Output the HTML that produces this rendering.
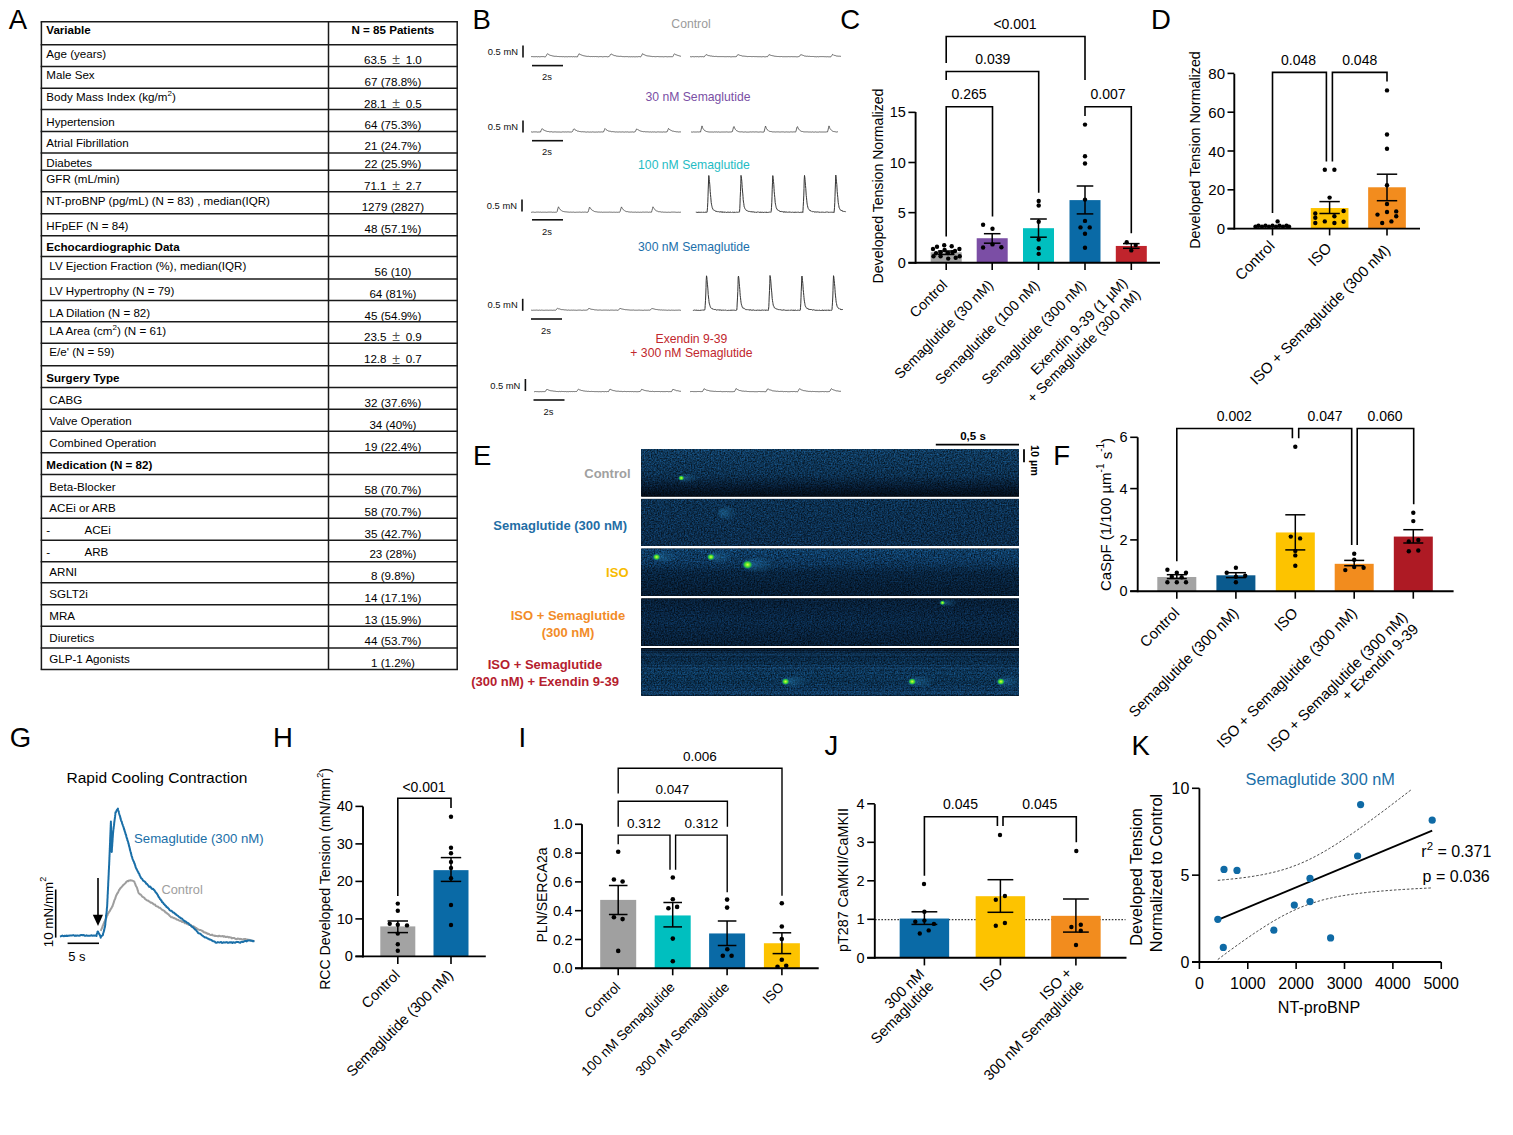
<!DOCTYPE html>
<html><head><meta charset="utf-8"><style>
html,body{margin:0;padding:0;background:#fff;overflow:hidden;width:1513px;height:1135px;}
svg{display:block;}
text{font-family:"Liberation Sans",sans-serif;}
</style></head><body>
<svg width="1513" height="1135" viewBox="0 0 1513 1135" font-family="Liberation Sans">
<rect width="1513" height="1135" fill="#fff"/>
<text x="8.7" y="29.2" font-size="27.5" text-anchor="start" fill="#000" font-weight="normal" dominant-baseline="alphabetic" >A</text>
<text x="472.5" y="29.0" font-size="27.5" text-anchor="start" fill="#000" font-weight="normal" dominant-baseline="alphabetic" >B</text>
<text x="840.3" y="29.0" font-size="27.5" text-anchor="start" fill="#000" font-weight="normal" dominant-baseline="alphabetic" >C</text>
<text x="1150.9" y="29.0" font-size="27.5" text-anchor="start" fill="#000" font-weight="normal" dominant-baseline="alphabetic" >D</text>
<text x="472.9" y="465.0" font-size="27.5" text-anchor="start" fill="#000" font-weight="normal" dominant-baseline="alphabetic" >E</text>
<text x="1053.3" y="465.0" font-size="27.5" text-anchor="start" fill="#000" font-weight="normal" dominant-baseline="alphabetic" >F</text>
<text x="9.7" y="747.2" font-size="27.5" text-anchor="start" fill="#000" font-weight="normal" dominant-baseline="alphabetic" >G</text>
<text x="273.1" y="747.2" font-size="27.5" text-anchor="start" fill="#000" font-weight="normal" dominant-baseline="alphabetic" >H</text>
<text x="518.4" y="747.2" font-size="27.5" text-anchor="start" fill="#000" font-weight="normal" dominant-baseline="alphabetic" >I</text>
<text x="824.5" y="755.0" font-size="27.5" text-anchor="start" fill="#000" font-weight="normal" dominant-baseline="alphabetic" >J</text>
<text x="1131.5" y="755.0" font-size="27.5" text-anchor="start" fill="#000" font-weight="normal" dominant-baseline="alphabetic" >K</text>
<g font-family="Liberation Sans">
<text x="46.3" y="29.9" font-size="11.6" text-anchor="start" fill="#000" font-weight="bold" dominant-baseline="central" >Variable</text>
<text x="392.9" y="29.9" font-size="11.6" text-anchor="middle" fill="#000" font-weight="bold" dominant-baseline="central" >N = 85 Patients</text>
<text x="46.3" y="53.0" font-size="11.6" text-anchor="start" fill="#000" font-weight="normal" dominant-baseline="central" >Age (years)</text>
<text x="392.9" y="59.2" font-size="11.6" text-anchor="middle" fill="#000" font-weight="normal" dominant-baseline="central" >63.5 <tspan dx='2.5' font-size='14' fill='#555'>±</tspan><tspan dx='2.5'> </tspan>1.0</text>
<text x="46.3" y="74.6" font-size="11.6" text-anchor="start" fill="#000" font-weight="normal" dominant-baseline="central" >Male Sex</text>
<text x="392.9" y="81.1" font-size="11.6" text-anchor="middle" fill="#000" font-weight="normal" dominant-baseline="central" >67 (78.8%)</text>
<text x="46.3" y="96.2" font-size="11.6" text-anchor="start" fill="#000" font-weight="normal" dominant-baseline="central" >Body Mass Index (kg/m<tspan font-size='8' dy='-3.5'>2</tspan><tspan dy='3.5'>)</tspan></text>
<text x="392.9" y="103.2" font-size="11.6" text-anchor="middle" fill="#000" font-weight="normal" dominant-baseline="central" >28.1 <tspan dx='2.5' font-size='14' fill='#555'>±</tspan><tspan dx='2.5'> </tspan>0.5</text>
<text x="46.3" y="121.8" font-size="11.6" text-anchor="start" fill="#000" font-weight="normal" dominant-baseline="central" >Hypertension</text>
<text x="392.9" y="124.3" font-size="11.6" text-anchor="middle" fill="#000" font-weight="normal" dominant-baseline="central" >64 (75.3%)</text>
<text x="46.3" y="142.6" font-size="11.6" text-anchor="start" fill="#000" font-weight="normal" dominant-baseline="central" >Atrial Fibrillation</text>
<text x="392.9" y="145.9" font-size="11.6" text-anchor="middle" fill="#000" font-weight="normal" dominant-baseline="central" >21 (24.7%)</text>
<text x="46.3" y="162.6" font-size="11.6" text-anchor="start" fill="#000" font-weight="normal" dominant-baseline="central" >Diabetes</text>
<text x="392.9" y="163.5" font-size="11.6" text-anchor="middle" fill="#000" font-weight="normal" dominant-baseline="central" >22 (25.9%)</text>
<text x="46.3" y="178.2" font-size="11.6" text-anchor="start" fill="#000" font-weight="normal" dominant-baseline="central" >GFR (mL/min)</text>
<text x="392.9" y="185.0" font-size="11.6" text-anchor="middle" fill="#000" font-weight="normal" dominant-baseline="central" >71.1 <tspan dx='2.5' font-size='14' fill='#555'>±</tspan><tspan dx='2.5'> </tspan>2.7</text>
<text x="46.3" y="200.5" font-size="11.6" text-anchor="start" fill="#000" font-weight="normal" dominant-baseline="central" >NT-proBNP (pg/mL) (N = 83) , median(IQR)</text>
<text x="392.9" y="206.7" font-size="11.6" text-anchor="middle" fill="#000" font-weight="normal" dominant-baseline="central" >1279 (2827)</text>
<text x="46.3" y="225.2" font-size="11.6" text-anchor="start" fill="#000" font-weight="normal" dominant-baseline="central" >HFpEF (N = 84)</text>
<text x="392.9" y="228.9" font-size="11.6" text-anchor="middle" fill="#000" font-weight="normal" dominant-baseline="central" >48 (57.1%)</text>
<text x="46.3" y="246.8" font-size="11.6" text-anchor="start" fill="#000" font-weight="bold" dominant-baseline="central" >Echocardiographic Data</text>
<text x="49.3" y="265.3" font-size="11.6" text-anchor="start" fill="#000" font-weight="normal" dominant-baseline="central" >LV Ejection Fraction (%), median(IQR)</text>
<text x="392.9" y="271.4" font-size="11.6" text-anchor="middle" fill="#000" font-weight="normal" dominant-baseline="central" >56 (10)</text>
<text x="49.3" y="290.0" font-size="11.6" text-anchor="start" fill="#000" font-weight="normal" dominant-baseline="central" >LV Hypertrophy (N = 79)</text>
<text x="392.9" y="293.0" font-size="11.6" text-anchor="middle" fill="#000" font-weight="normal" dominant-baseline="central" >64 (81%)</text>
<text x="49.3" y="312.2" font-size="11.6" text-anchor="start" fill="#000" font-weight="normal" dominant-baseline="central" >LA Dilation (N = 82)</text>
<text x="392.9" y="315.2" font-size="11.6" text-anchor="middle" fill="#000" font-weight="normal" dominant-baseline="central" >45 (54.9%)</text>
<text x="49.3" y="330.0" font-size="11.6" text-anchor="start" fill="#000" font-weight="normal" dominant-baseline="central" >LA Area (cm<tspan font-size='8' dy='-3.5'>2</tspan><tspan dy='3.5'>) (N = 61)</tspan></text>
<text x="392.9" y="336.2" font-size="11.6" text-anchor="middle" fill="#000" font-weight="normal" dominant-baseline="central" >23.5 <tspan dx='2.5' font-size='14' fill='#555'>±</tspan><tspan dx='2.5'> </tspan>0.9</text>
<text x="49.3" y="351.7" font-size="11.6" text-anchor="start" fill="#000" font-weight="normal" dominant-baseline="central" >E/e' (N = 59)</text>
<text x="392.9" y="358.5" font-size="11.6" text-anchor="middle" fill="#000" font-weight="normal" dominant-baseline="central" >12.8 <tspan dx='2.5' font-size='14' fill='#555'>±</tspan><tspan dx='2.5'> </tspan>0.7</text>
<text x="46.3" y="377.9" font-size="11.6" text-anchor="start" fill="#000" font-weight="bold" dominant-baseline="central" >Surgery Type</text>
<text x="49.3" y="399.5" font-size="11.6" text-anchor="start" fill="#000" font-weight="normal" dominant-baseline="central" >CABG</text>
<text x="392.9" y="402.6" font-size="11.6" text-anchor="middle" fill="#000" font-weight="normal" dominant-baseline="central" >32 (37.6%)</text>
<text x="49.3" y="420.8" font-size="11.6" text-anchor="start" fill="#000" font-weight="normal" dominant-baseline="central" >Valve Operation</text>
<text x="392.9" y="424.2" font-size="11.6" text-anchor="middle" fill="#000" font-weight="normal" dominant-baseline="central" >34 (40%)</text>
<text x="49.3" y="442.7" font-size="11.6" text-anchor="start" fill="#000" font-weight="normal" dominant-baseline="central" >Combined Operation</text>
<text x="392.9" y="446.4" font-size="11.6" text-anchor="middle" fill="#000" font-weight="normal" dominant-baseline="central" >19 (22.4%)</text>
<text x="46.3" y="464.6" font-size="11.6" text-anchor="start" fill="#000" font-weight="bold" dominant-baseline="central" >Medication (N = 82)</text>
<text x="49.3" y="486.5" font-size="11.6" text-anchor="start" fill="#000" font-weight="normal" dominant-baseline="central" >Beta-Blocker</text>
<text x="392.9" y="489.6" font-size="11.6" text-anchor="middle" fill="#000" font-weight="normal" dominant-baseline="central" >58 (70.7%)</text>
<text x="49.3" y="507.4" font-size="11.6" text-anchor="start" fill="#000" font-weight="normal" dominant-baseline="central" >ACEi or ARB</text>
<text x="392.9" y="511.1" font-size="11.6" text-anchor="middle" fill="#000" font-weight="normal" dominant-baseline="central" >58 (70.7%)</text>
<text x="46.3" y="529.6" font-size="11.6" text-anchor="start" fill="#000" font-weight="normal" dominant-baseline="central" >-</text>
<text x="392.9" y="533.3" font-size="11.6" text-anchor="middle" fill="#000" font-weight="normal" dominant-baseline="central" >35 (42.7%)</text>
<text x="46.3" y="551.2" font-size="11.6" text-anchor="start" fill="#000" font-weight="normal" dominant-baseline="central" >-</text>
<text x="392.9" y="553.7" font-size="11.6" text-anchor="middle" fill="#000" font-weight="normal" dominant-baseline="central" >23 (28%)</text>
<text x="49.3" y="571.9" font-size="11.6" text-anchor="start" fill="#000" font-weight="normal" dominant-baseline="central" >ARNI</text>
<text x="392.9" y="575.9" font-size="11.6" text-anchor="middle" fill="#000" font-weight="normal" dominant-baseline="central" >8 (9.8%)</text>
<text x="49.3" y="593.8" font-size="11.6" text-anchor="start" fill="#000" font-weight="normal" dominant-baseline="central" >SGLT2i</text>
<text x="392.9" y="597.5" font-size="11.6" text-anchor="middle" fill="#000" font-weight="normal" dominant-baseline="central" >14 (17.1%)</text>
<text x="49.3" y="615.4" font-size="11.6" text-anchor="start" fill="#000" font-weight="normal" dominant-baseline="central" >MRA</text>
<text x="392.9" y="619.0" font-size="11.6" text-anchor="middle" fill="#000" font-weight="normal" dominant-baseline="central" >13 (15.9%)</text>
<text x="49.3" y="637.6" font-size="11.6" text-anchor="start" fill="#000" font-weight="normal" dominant-baseline="central" >Diuretics</text>
<text x="392.9" y="640.6" font-size="11.6" text-anchor="middle" fill="#000" font-weight="normal" dominant-baseline="central" >44 (53.7%)</text>
<text x="49.3" y="658.5" font-size="11.6" text-anchor="start" fill="#000" font-weight="normal" dominant-baseline="central" >GLP-1 Agonists</text>
<text x="392.9" y="662.2" font-size="11.6" text-anchor="middle" fill="#000" font-weight="normal" dominant-baseline="central" >1 (1.2%)</text>
<text x="84.5" y="529.6" font-size="11.6" text-anchor="start" fill="#000" font-weight="normal" dominant-baseline="central" >ACEi</text>
<text x="84.5" y="551.2" font-size="11.6" text-anchor="start" fill="#000" font-weight="normal" dominant-baseline="central" >ARB</text>
<line x1="40.65" y1="21.70" x2="457.95" y2="21.70" stroke="#1a1a1a" stroke-width="1.5" />
<line x1="40.65" y1="44.70" x2="457.95" y2="44.70" stroke="#1a1a1a" stroke-width="1.5" />
<line x1="40.65" y1="66.60" x2="457.95" y2="66.60" stroke="#1a1a1a" stroke-width="1.5" />
<line x1="40.65" y1="88.20" x2="457.95" y2="88.20" stroke="#1a1a1a" stroke-width="1.5" />
<line x1="40.65" y1="109.60" x2="457.95" y2="109.60" stroke="#1a1a1a" stroke-width="1.5" />
<line x1="40.65" y1="131.60" x2="457.95" y2="131.60" stroke="#1a1a1a" stroke-width="1.5" />
<line x1="40.65" y1="153.00" x2="457.95" y2="153.00" stroke="#1a1a1a" stroke-width="1.5" />
<line x1="40.65" y1="170.20" x2="457.95" y2="170.20" stroke="#1a1a1a" stroke-width="1.5" />
<line x1="40.65" y1="191.70" x2="457.95" y2="191.70" stroke="#1a1a1a" stroke-width="1.5" />
<line x1="40.65" y1="213.70" x2="457.95" y2="213.70" stroke="#1a1a1a" stroke-width="1.5" />
<line x1="40.65" y1="235.80" x2="457.95" y2="235.80" stroke="#1a1a1a" stroke-width="1.5" />
<line x1="40.65" y1="256.60" x2="457.95" y2="256.60" stroke="#1a1a1a" stroke-width="1.5" />
<line x1="40.65" y1="279.00" x2="457.95" y2="279.00" stroke="#1a1a1a" stroke-width="1.5" />
<line x1="40.65" y1="300.40" x2="457.95" y2="300.40" stroke="#1a1a1a" stroke-width="1.5" />
<line x1="40.65" y1="321.80" x2="457.95" y2="321.80" stroke="#1a1a1a" stroke-width="1.5" />
<line x1="40.65" y1="343.30" x2="457.95" y2="343.30" stroke="#1a1a1a" stroke-width="1.5" />
<line x1="40.65" y1="365.80" x2="457.95" y2="365.80" stroke="#1a1a1a" stroke-width="1.5" />
<line x1="40.65" y1="387.60" x2="457.95" y2="387.60" stroke="#1a1a1a" stroke-width="1.5" />
<line x1="40.65" y1="409.30" x2="457.95" y2="409.30" stroke="#1a1a1a" stroke-width="1.5" />
<line x1="40.65" y1="431.30" x2="457.95" y2="431.30" stroke="#1a1a1a" stroke-width="1.5" />
<line x1="40.65" y1="452.80" x2="457.95" y2="452.80" stroke="#1a1a1a" stroke-width="1.5" />
<line x1="40.65" y1="474.50" x2="457.95" y2="474.50" stroke="#1a1a1a" stroke-width="1.5" />
<line x1="40.65" y1="496.50" x2="457.95" y2="496.50" stroke="#1a1a1a" stroke-width="1.5" />
<line x1="40.65" y1="518.20" x2="457.95" y2="518.20" stroke="#1a1a1a" stroke-width="1.5" />
<line x1="40.65" y1="540.20" x2="457.95" y2="540.20" stroke="#1a1a1a" stroke-width="1.5" />
<line x1="40.65" y1="561.70" x2="457.95" y2="561.70" stroke="#1a1a1a" stroke-width="1.5" />
<line x1="40.65" y1="582.80" x2="457.95" y2="582.80" stroke="#1a1a1a" stroke-width="1.5" />
<line x1="40.65" y1="604.80" x2="457.95" y2="604.80" stroke="#1a1a1a" stroke-width="1.5" />
<line x1="40.65" y1="626.30" x2="457.95" y2="626.30" stroke="#1a1a1a" stroke-width="1.5" />
<line x1="40.65" y1="648.00" x2="457.95" y2="648.00" stroke="#1a1a1a" stroke-width="1.5" />
<line x1="40.65" y1="669.50" x2="457.95" y2="669.50" stroke="#1a1a1a" stroke-width="1.5" />
<line x1="41.40" y1="21.70" x2="41.40" y2="669.50" stroke="#1a1a1a" stroke-width="1.5" />
<line x1="457.20" y1="21.70" x2="457.20" y2="669.50" stroke="#1a1a1a" stroke-width="1.5" />
<line x1="328.50" y1="21.70" x2="328.50" y2="669.50" stroke="#1a1a1a" stroke-width="1.5" />
</g>
<g font-family="Liberation Sans">
<text x="691.0" y="24.0" font-size="12.2" text-anchor="middle" fill="#9a9a9a" font-weight="normal" dominant-baseline="central" >Control</text>
<text x="698.0" y="96.5" font-size="12.2" text-anchor="middle" fill="#7a4fa5" font-weight="normal" dominant-baseline="central" >30 nM Semaglutide</text>
<text x="694.0" y="164.5" font-size="12.2" text-anchor="middle" fill="#1fbcc4" font-weight="normal" dominant-baseline="central" >100 nM Semaglutide</text>
<text x="694.0" y="247.0" font-size="12.2" text-anchor="middle" fill="#1b6fab" font-weight="normal" dominant-baseline="central" >300 nM Semaglutide</text>
<text x="691.5" y="339.0" font-size="12.2" text-anchor="middle" fill="#c1272d" font-weight="normal" dominant-baseline="central" >Exendin 9-39</text>
<text x="691.5" y="353.0" font-size="12.2" text-anchor="middle" fill="#c1272d" font-weight="normal" dominant-baseline="central" >+ 300 nM Semaglutide</text>
<text x="518.0" y="51.6" font-size="9.4" text-anchor="end" fill="#111" font-weight="normal" dominant-baseline="central" >0.5 mN</text>
<line x1="523.00" y1="45.60" x2="523.00" y2="57.60" stroke="#111" stroke-width="1.6" />
<line x1="532.00" y1="65.60" x2="563.00" y2="65.60" stroke="#111" stroke-width="1.6" />
<text x="547.0" y="76.0" font-size="9.4" text-anchor="middle" fill="#111" font-weight="normal" dominant-baseline="central" >2s</text>
<polyline points="531.0,56.7 531.5,56.6 532.0,56.7 532.5,56.6 533.0,56.7 533.5,56.7 534.0,56.6 534.5,56.7 535.0,56.6 535.5,56.7 536.0,56.6 536.5,56.6 537.0,56.7 537.5,56.8 538.0,56.6 538.5,56.6 539.0,56.7 539.5,56.8 540.0,56.7 540.5,56.7 541.0,56.8 541.5,56.6 542.0,56.8 542.5,56.6 543.0,56.6 543.5,56.6 544.0,56.7 544.5,56.8 545.0,56.6 545.5,56.7 546.0,56.3 546.5,55.3 547.0,54.3 547.5,53.7 548.0,54.1 548.5,54.4 549.0,54.8 549.5,55.0 550.0,55.1 550.5,55.4 551.0,55.5 551.5,55.6 552.0,55.8 552.5,55.9 553.0,55.9 553.5,56.1 554.0,56.1 554.5,56.3 555.0,56.3 555.5,56.3 556.0,56.5 556.5,56.3 557.0,56.4 557.5,56.5 558.0,56.4 558.5,56.5 559.0,56.4 559.5,56.6 560.0,56.6 560.5,56.6 561.0,56.7 561.5,56.6 562.0,56.7 562.5,56.7 563.0,56.7 563.5,56.6 564.0,56.7 564.5,56.8 565.0,56.7 565.5,56.7 566.0,56.6 566.5,56.7 567.0,56.7 567.5,56.8 568.0,56.8 568.5,56.6 569.0,56.7 569.5,56.7 570.0,56.6 570.5,56.7 571.0,56.6 571.5,56.6 572.0,56.6 572.5,56.8 573.0,56.6 573.5,56.6 574.0,56.7 574.5,56.8 575.0,56.6 575.5,56.7 576.0,56.7 576.5,56.8 577.0,56.8 577.5,56.8 578.0,55.6 578.5,54.7 579.0,53.7 579.5,54.1 580.0,54.5 580.5,54.6 581.0,54.8 581.5,55.0 582.0,55.2 582.5,55.4 583.0,55.6 583.5,55.7 584.0,55.7 584.5,55.9 585.0,56.0 585.5,56.1 586.0,56.3 586.5,56.3 587.0,56.3 587.5,56.4 588.0,56.4 588.5,56.3 589.0,56.5 589.5,56.5 590.0,56.6 590.5,56.6 591.0,56.5 591.5,56.5 592.0,56.5 592.5,56.6 593.0,56.5 593.5,56.5 594.0,56.6 594.5,56.6 595.0,56.6 595.5,56.5 596.0,56.5 596.5,56.6 597.0,56.6 597.5,56.6 598.0,56.6 598.5,56.8 599.0,56.7 599.5,56.6 600.0,56.6 600.5,56.6 601.0,56.7 601.5,56.6 602.0,56.8 602.5,56.8 603.0,56.7 603.5,56.7 604.0,56.6 604.5,56.6 605.0,56.7 605.5,56.6 606.0,56.8 606.5,56.6 607.0,56.6 607.5,56.8 608.0,56.7 608.5,56.6 609.0,56.7 609.5,56.2 610.0,55.3 610.5,54.4 611.0,53.9 611.5,54.2 612.0,54.4 612.5,54.7 613.0,54.9 613.5,55.2 614.0,55.4 614.5,55.6 615.0,55.6 615.5,55.7 616.0,56.0 616.5,56.1 617.0,56.1 617.5,56.2 618.0,56.3 618.5,56.3 619.0,56.2 619.5,56.4 620.0,56.4 620.5,56.3 621.0,56.4 621.5,56.4 622.0,56.5 622.5,56.6 623.0,56.7 623.5,56.6 624.0,56.7 624.5,56.7 625.0,56.7 625.5,56.6 626.0,56.6 626.5,56.6 627.0,56.6 627.5,56.6 628.0,56.7 628.5,56.8 629.0,56.7 629.5,56.7 630.0,56.7 630.5,56.8 631.0,56.6 631.5,56.7 632.0,56.8 632.5,56.8 633.0,56.7 633.5,56.7 634.0,56.6 634.5,56.8 635.0,56.7 635.5,56.8 636.0,56.8 636.5,56.7 637.0,56.7 637.5,56.8 638.0,56.8 638.5,56.6 639.0,56.6 639.5,56.6 640.0,56.8 640.5,56.8 641.0,56.6 641.5,55.8 642.0,54.8 642.5,53.7 643.0,54.0 643.5,54.4 644.0,54.5 644.5,54.8 645.0,55.2 645.5,55.3 646.0,55.5 646.5,55.7 647.0,55.7 647.5,55.9 648.0,56.0 648.5,56.0 649.0,56.0 649.5,56.1 650.0,56.2 650.5,56.3 651.0,56.3 651.5,56.4 652.0,56.3 652.5,56.6 653.0,56.4 653.5,56.5 654.0,56.6 654.5,56.6 655.0,56.5 655.5,56.7 656.0,56.6 656.5,56.6 657.0,56.6 657.5,56.5 658.0,56.6 658.5,56.6 659.0,56.5 659.5,56.7 660.0,56.6 660.5,56.7 661.0,56.7 661.5,56.7 662.0,56.6 662.5,56.7 663.0,56.7 663.5,56.8 664.0,56.6 664.5,56.7 665.0,56.6 665.5,56.6 666.0,56.8 666.5,56.7 667.0,56.7 667.5,56.8 668.0,56.8 668.5,56.7 669.0,56.7 669.5,56.7 670.0,56.7 670.5,56.7 671.0,56.7 671.5,56.7 672.0,56.7 672.5,56.8 673.0,56.3 673.5,55.4 674.0,54.4 674.5,53.8 675.0,54.2 675.5,54.6 676.0,54.8 676.5,54.9 677.0,55.1 677.5,55.3 678.0,55.4 678.5,55.6 679.0,55.7 679.5,55.9 680.0,56.0 680.5,56.2 681.0,56.1" fill="none" stroke="#555" stroke-width="0.9" stroke-linejoin="round" />
<polyline points="690.0,56.8 690.5,56.7 691.0,56.6 691.5,56.8 692.0,56.8 692.5,56.6 693.0,56.8 693.5,56.7 694.0,56.7 694.5,56.8 695.0,56.8 695.5,56.6 696.0,56.7 696.5,56.7 697.0,56.7 697.5,56.6 698.0,56.7 698.5,56.8 699.0,56.6 699.5,56.7 700.0,56.7 700.5,56.6 701.0,56.7 701.5,56.7 702.0,56.7 702.5,56.6 703.0,56.8 703.5,56.8 704.0,56.8 704.5,56.6 705.0,55.9 705.5,55.1 706.0,54.6 706.5,54.7 707.0,54.9 707.5,55.2 708.0,55.5 708.5,55.6 709.0,55.6 709.5,55.7 710.0,56.0 710.5,56.0 711.0,56.1 711.5,56.0 712.0,56.1 712.5,56.3 713.0,56.3 713.5,56.3 714.0,56.5 714.5,56.5 715.0,56.5 715.5,56.4 716.0,56.6 716.5,56.4 717.0,56.6 717.5,56.6 718.0,56.6 718.5,56.6 719.0,56.7 719.5,56.6 720.0,56.5 720.5,56.6 721.0,56.6 721.5,56.6 722.0,56.6 722.5,56.6 723.0,56.6 723.5,56.6 724.0,56.6 724.5,56.7 725.0,56.6 725.5,56.7 726.0,56.6 726.5,56.7 727.0,56.6 727.5,56.6 728.0,56.6 728.5,56.7 729.0,56.7 729.5,56.6 730.0,56.7 730.5,56.8 731.0,56.6 731.5,56.8 732.0,56.7 732.5,56.7 733.0,56.8 733.5,56.7 734.0,56.7 734.5,56.7 735.0,56.8 735.5,56.7 736.0,56.8 736.5,56.5 737.0,55.7 737.5,54.9 738.0,54.6 738.5,54.7 739.0,55.0 739.5,55.2 740.0,55.5 740.5,55.5 741.0,55.6 741.5,55.7 742.0,56.0 742.5,56.1 743.0,56.1 743.5,56.1 744.0,56.2 744.5,56.2 745.0,56.3 745.5,56.3 746.0,56.4 746.5,56.4 747.0,56.6 747.5,56.6 748.0,56.5 748.5,56.5 749.0,56.7 749.5,56.5 750.0,56.6 750.5,56.5 751.0,56.6 751.5,56.6 752.0,56.6 752.5,56.6 753.0,56.7 753.5,56.5 754.0,56.6 754.5,56.6 755.0,56.6 755.5,56.6 756.0,56.6 756.5,56.6 757.0,56.6 757.5,56.7 758.0,56.7 758.5,56.7 759.0,56.7 759.5,56.7 760.0,56.8 760.5,56.7 761.0,56.7 761.5,56.8 762.0,56.6 762.5,56.7 763.0,56.7 763.5,56.6 764.0,56.8 764.5,56.8 765.0,56.7 765.5,56.8 766.0,56.8 766.5,56.6 767.0,56.7 767.5,56.7 768.0,56.0 768.5,55.3 769.0,54.6 769.5,54.8 770.0,55.1 770.5,55.2 771.0,55.4 771.5,55.5 772.0,55.5 772.5,55.7 773.0,55.9 773.5,55.9 774.0,56.2 774.5,56.2 775.0,56.2 775.5,56.3 776.0,56.4 776.5,56.4 777.0,56.3 777.5,56.5 778.0,56.5 778.5,56.5 779.0,56.5 779.5,56.6 780.0,56.5 780.5,56.6 781.0,56.5 781.5,56.5 782.0,56.6 782.5,56.7 783.0,56.6 783.5,56.7 784.0,56.8 784.5,56.7 785.0,56.6 785.5,56.7 786.0,56.7 786.5,56.7 787.0,56.7 787.5,56.7 788.0,56.6 788.5,56.6 789.0,56.6 789.5,56.7 790.0,56.6 790.5,56.7 791.0,56.6 791.5,56.6 792.0,56.6 792.5,56.7 793.0,56.7 793.5,56.7 794.0,56.6 794.5,56.7 795.0,56.7 795.5,56.7 796.0,56.6 796.5,56.8 797.0,56.6 797.5,56.8 798.0,56.8 798.5,56.6 799.0,56.7 799.5,56.3 800.0,55.6 800.5,54.8 801.0,54.6 801.5,54.8 802.0,55.2 802.5,55.2 803.0,55.5 803.5,55.5 804.0,55.7 804.5,56.0 805.0,55.9 805.5,56.1 806.0,56.1 806.5,56.3 807.0,56.3 807.5,56.2 808.0,56.4 808.5,56.4 809.0,56.3 809.5,56.3 810.0,56.5 810.5,56.5 811.0,56.5 811.5,56.5 812.0,56.5 812.5,56.5 813.0,56.7 813.5,56.5 814.0,56.7 814.5,56.7 815.0,56.5 815.5,56.7 816.0,56.7 816.5,56.8 817.0,56.6 817.5,56.6 818.0,56.6 818.5,56.8 819.0,56.7 819.5,56.6 820.0,56.7 820.5,56.6 821.0,56.6 821.5,56.6 822.0,56.8 822.5,56.6 823.0,56.8 823.5,56.6 824.0,56.6 824.5,56.7 825.0,56.6 825.5,56.7 826.0,56.8 826.5,56.8 827.0,56.8 827.5,56.7 828.0,56.8 828.5,56.8 829.0,56.7 829.5,56.8 830.0,56.6 830.5,56.8 831.0,56.7 831.5,56.0 832.0,55.3 832.5,54.4 833.0,54.6 833.5,55.1 834.0,55.1 834.5,55.4 835.0,55.5 835.5,55.6 836.0,55.8 836.5,56.0 837.0,55.9 837.5,56.1 838.0,56.1 838.5,56.2 839.0,56.2 839.5,56.2 840.0,56.3 840.5,56.3 841.0,56.5" fill="none" stroke="#555" stroke-width="0.9" stroke-linejoin="round" />
<text x="518.0" y="126.5" font-size="9.4" text-anchor="end" fill="#111" font-weight="normal" dominant-baseline="central" >0.5 mN</text>
<line x1="523.00" y1="120.50" x2="523.00" y2="132.50" stroke="#111" stroke-width="1.6" />
<line x1="532.00" y1="140.70" x2="563.00" y2="140.70" stroke="#111" stroke-width="1.6" />
<text x="547.0" y="151.6" font-size="9.4" text-anchor="middle" fill="#111" font-weight="normal" dominant-baseline="central" >2s</text>
<polyline points="531.0,132.0 531.5,131.9 532.0,132.1 532.5,132.1 533.0,132.0 533.5,131.9 534.0,131.9 534.5,131.9 535.0,132.0 535.5,131.9 536.0,131.9 536.5,131.9 537.0,132.0 537.5,132.1 538.0,132.1 538.5,132.0 539.0,132.0 539.5,132.0 540.0,132.0 540.5,132.0 541.0,130.7 541.5,129.6 542.0,128.6 542.5,128.9 543.0,129.5 543.5,129.9 544.0,130.3 544.5,130.4 545.0,130.7 545.5,130.8 546.0,131.1 546.5,131.2 547.0,131.4 547.5,131.5 548.0,131.6 548.5,131.5 549.0,131.5 549.5,131.8 550.0,131.9 550.5,131.8 551.0,131.8 551.5,131.7 552.0,131.8 552.5,132.0 553.0,132.0 553.5,132.0 554.0,132.0 554.5,131.9 555.0,131.9 555.5,131.9 556.0,132.0 556.5,132.0 557.0,132.1 557.5,132.0 558.0,132.0 558.5,132.0 559.0,132.0 559.5,132.0 560.0,131.9 560.5,132.1 561.0,131.9 561.5,132.1 562.0,132.0 562.5,131.9 563.0,131.9 563.5,131.9 564.0,132.0 564.5,132.0 565.0,131.9 565.5,131.9 566.0,132.0 566.5,132.0 567.0,132.0 567.5,131.9 568.0,132.0 568.5,131.9 569.0,132.0 569.5,132.0 570.0,132.1 570.5,132.0 571.0,132.1 571.5,132.0 572.0,131.9 572.5,131.5 573.0,130.5 573.5,129.2 574.0,128.7 574.5,129.1 575.0,129.7 575.5,130.1 576.0,130.3 576.5,130.5 577.0,130.8 577.5,131.1 578.0,131.1 578.5,131.2 579.0,131.3 579.5,131.5 580.0,131.6 580.5,131.6 581.0,131.8 581.5,131.8 582.0,131.8 582.5,131.7 583.0,131.9 583.5,131.8 584.0,132.0 584.5,131.8 585.0,131.8 585.5,132.0 586.0,131.9 586.5,132.1 587.0,132.0 587.5,131.9 588.0,131.9 588.5,132.0 589.0,132.0 589.5,132.1 590.0,131.9 590.5,132.0 591.0,131.9 591.5,132.1 592.0,131.9 592.5,131.9 593.0,131.9 593.5,132.0 594.0,132.1 594.5,132.1 595.0,132.1 595.5,132.1 596.0,132.1 596.5,132.0 597.0,131.9 597.5,132.1 598.0,132.1 598.5,131.9 599.0,132.0 599.5,132.0 600.0,132.0 600.5,132.0 601.0,131.9 601.5,131.9 602.0,131.9 602.5,132.0 603.0,132.1 603.5,131.9 604.0,130.9 604.5,129.6 605.0,128.5 605.5,129.1 606.0,129.6 606.5,129.9 607.0,130.1 607.5,130.5 608.0,130.7 608.5,131.0 609.0,131.0 609.5,131.2 610.0,131.4 610.5,131.3 611.0,131.5 611.5,131.7 612.0,131.7 612.5,131.6 613.0,131.6 613.5,131.7 614.0,131.9 614.5,131.8 615.0,131.9 615.5,132.0 616.0,131.9 616.5,131.9 617.0,132.0 617.5,132.0 618.0,131.9 618.5,132.0 619.0,131.9 619.5,131.9 620.0,131.9 620.5,132.0 621.0,132.1 621.5,132.0 622.0,132.1 622.5,131.9 623.0,131.9 623.5,132.0 624.0,132.1 624.5,132.1 625.0,132.0 625.5,131.9 626.0,132.0 626.5,132.0 627.0,132.1 627.5,131.9 628.0,132.1 628.5,132.1 629.0,132.1 629.5,132.1 630.0,132.0 630.5,132.0 631.0,132.0 631.5,132.0 632.0,132.1 632.5,131.9 633.0,131.9 633.5,132.1 634.0,131.9 634.5,131.9 635.0,131.9 635.5,131.3 636.0,130.1 636.5,129.1 637.0,128.9 637.5,129.4 638.0,129.7 638.5,130.0 639.0,130.3 639.5,130.6 640.0,130.9 640.5,131.0 641.0,131.1 641.5,131.3 642.0,131.4 642.5,131.5 643.0,131.6 643.5,131.7 644.0,131.7 644.5,131.6 645.0,131.9 645.5,131.8 646.0,131.9 646.5,131.8 647.0,131.9 647.5,131.8 648.0,131.9 648.5,131.9 649.0,131.9 649.5,132.0 650.0,132.0 650.5,131.9 651.0,131.9 651.5,132.1 652.0,132.0 652.5,131.9 653.0,132.1 653.5,132.0 654.0,132.1 654.5,131.9 655.0,132.0 655.5,132.1 656.0,132.1 656.5,132.1 657.0,131.9 657.5,131.9 658.0,131.9 658.5,131.9 659.0,132.1 659.5,132.0 660.0,132.1 660.5,132.0 661.0,132.1 661.5,132.0 662.0,131.9 662.5,132.1 663.0,132.1 663.5,131.9 664.0,132.0 664.5,132.0 665.0,131.9 665.5,132.0 666.0,131.9 666.5,131.9 667.0,131.9 667.5,130.9 668.0,129.7 668.5,128.4 669.0,128.9 669.5,129.5 670.0,129.9 670.5,130.1 671.0,130.4 671.5,130.6 672.0,131.0 672.5,131.1 673.0,131.1 673.5,131.2 674.0,131.4 674.5,131.5 675.0,131.6 675.5,131.6 676.0,131.6 676.5,131.8 677.0,131.8 677.5,131.8 678.0,131.8 678.5,132.0 679.0,131.8 679.5,131.9 680.0,131.9 680.5,131.9 681.0,132.0" fill="none" stroke="#555" stroke-width="0.9" stroke-linejoin="round" />
<polyline points="691.0,132.1 691.5,132.0 692.0,131.9 692.5,132.1 693.0,131.9 693.5,131.9 694.0,132.1 694.5,132.0 695.0,132.1 695.5,132.0 696.0,132.1 696.5,132.0 697.0,131.9 697.5,131.9 698.0,132.0 698.5,132.0 699.0,132.1 699.5,131.9 700.0,132.0 700.5,132.0 701.0,130.0 701.5,127.9 702.0,125.9 702.5,127.4 703.0,128.6 703.5,129.2 704.0,129.9 704.5,130.5 705.0,130.9 705.5,131.0 706.0,131.2 706.5,131.5 707.0,131.7 707.5,131.7 708.0,131.6 708.5,131.9 709.0,131.8 709.5,132.0 710.0,131.9 710.5,132.0 711.0,131.9 711.5,132.0 712.0,131.9 712.5,132.0 713.0,132.1 713.5,132.1 714.0,131.9 714.5,131.9 715.0,132.0 715.5,132.0 716.0,132.0 716.5,131.9 717.0,131.9 717.5,132.1 718.0,132.1 718.5,131.9 719.0,132.0 719.5,132.1 720.0,131.9 720.5,132.1 721.0,131.9 721.5,132.0 722.0,132.0 722.5,132.0 723.0,132.0 723.5,132.0 724.0,132.0 724.5,132.0 725.0,132.0 725.5,132.0 726.0,132.0 726.5,131.9 727.0,132.0 727.5,132.0 728.0,131.9 728.5,132.1 729.0,132.1 729.5,132.0 730.0,131.9 730.5,132.0 731.0,131.9 731.5,131.9 732.0,132.0 732.5,131.1 733.0,129.2 733.5,127.2 734.0,126.5 734.5,127.9 735.0,128.7 735.5,129.6 736.0,130.2 736.5,130.6 737.0,130.8 737.5,131.1 738.0,131.3 738.5,131.6 739.0,131.5 739.5,131.8 740.0,131.9 740.5,131.9 741.0,131.9 741.5,131.8 742.0,132.0 742.5,131.9 743.0,132.1 743.5,132.1 744.0,131.9 744.5,132.0 745.0,132.1 745.5,131.9 746.0,132.0 746.5,132.1 747.0,131.9 747.5,132.1 748.0,131.9 748.5,132.1 749.0,131.9 749.5,132.0 750.0,132.1 750.5,131.9 751.0,131.9 751.5,132.0 752.0,132.0 752.5,131.9 753.0,131.9 753.5,131.9 754.0,132.1 754.5,132.0 755.0,132.1 755.5,131.9 756.0,132.1 756.5,131.9 757.0,132.0 757.5,132.0 758.0,132.0 758.5,132.1 759.0,132.0 759.5,132.0 760.0,132.1 760.5,131.9 761.0,132.1 761.5,132.0 762.0,132.0 762.5,132.1 763.0,131.9 763.5,132.1 764.0,132.0 764.5,130.0 765.0,128.1 765.5,126.0 766.0,127.3 766.5,128.5 767.0,129.2 767.5,130.0 768.0,130.3 768.5,130.8 769.0,131.2 769.5,131.3 770.0,131.5 770.5,131.5 771.0,131.5 771.5,131.6 772.0,131.7 772.5,131.9 773.0,131.9 773.5,131.9 774.0,132.0 774.5,131.9 775.0,131.9 775.5,132.0 776.0,131.9 776.5,131.9 777.0,132.0 777.5,131.9 778.0,132.0 778.5,131.9 779.0,132.0 779.5,132.0 780.0,131.9 780.5,132.0 781.0,132.0 781.5,131.9 782.0,132.1 782.5,131.9 783.0,131.9 783.5,131.9 784.0,132.0 784.5,132.1 785.0,132.1 785.5,132.0 786.0,131.9 786.5,131.9 787.0,132.0 787.5,132.0 788.0,132.0 788.5,132.0 789.0,132.0 789.5,132.1 790.0,132.1 790.5,131.9 791.0,132.1 791.5,131.9 792.0,132.0 792.5,132.0 793.0,131.9 793.5,131.9 794.0,132.1 794.5,131.9 795.0,132.0 795.5,132.1 796.0,131.1 796.5,129.1 797.0,127.2 797.5,126.6 798.0,127.9 798.5,128.9 799.0,129.5 799.5,130.1 800.0,130.5 800.5,130.8 801.0,131.2 801.5,131.4 802.0,131.5 802.5,131.5 803.0,131.8 803.5,131.8 804.0,131.8 804.5,131.9 805.0,131.9 805.5,131.9 806.0,131.8 806.5,131.9 807.0,131.9 807.5,131.9 808.0,132.0 808.5,132.0 809.0,132.1 809.5,132.0 810.0,131.9 810.5,132.0 811.0,132.0 811.5,132.1 812.0,132.0 812.5,131.9 813.0,132.0 813.5,132.1 814.0,131.9 814.5,132.1 815.0,131.9 815.5,131.9 816.0,131.9 816.5,132.1 817.0,132.1 817.5,132.1 818.0,132.0 818.5,132.1 819.0,132.0 819.5,131.9 820.0,132.1 820.5,132.0 821.0,132.0 821.5,132.0 822.0,132.1 822.5,132.0 823.0,132.1 823.5,132.0 824.0,132.1 824.5,132.0 825.0,132.1 825.5,132.0 826.0,132.0 826.5,131.9 827.0,132.0 827.5,131.9 828.0,130.1 828.5,127.9 829.0,125.9 829.5,127.3 830.0,128.6 830.5,129.2 831.0,129.8 831.5,130.3 832.0,130.7 832.5,131.1 833.0,131.3 833.5,131.5 834.0,131.6 834.5,131.6 835.0,131.8 835.5,131.8 836.0,131.9 836.5,132.0 837.0,132.0 837.5,131.8 838.0,132.0" fill="none" stroke="#555" stroke-width="0.9" stroke-linejoin="round" />
<text x="517.0" y="205.5" font-size="9.4" text-anchor="end" fill="#111" font-weight="normal" dominant-baseline="central" >0.5 mN</text>
<line x1="522.00" y1="199.50" x2="522.00" y2="211.50" stroke="#111" stroke-width="1.6" />
<line x1="532.00" y1="219.80" x2="563.00" y2="219.80" stroke="#111" stroke-width="1.6" />
<text x="547.0" y="231.7" font-size="9.4" text-anchor="middle" fill="#111" font-weight="normal" dominant-baseline="central" >2s</text>
<polyline points="531.0,212.3 531.5,212.3 532.0,212.1 532.5,212.1 533.0,212.1 533.5,212.1 534.0,212.3 534.5,212.3 535.0,212.2 535.5,212.3 536.0,212.2 536.5,212.1 537.0,212.1 537.5,212.1 538.0,212.3 538.5,212.1 539.0,212.2 539.5,212.2 540.0,212.1 540.5,212.1 541.0,212.1 541.5,212.3 542.0,212.2 542.5,212.2 543.0,212.3 543.5,212.2 544.0,212.3 544.5,212.2 545.0,212.1 545.5,212.2 546.0,212.2 546.5,212.3 547.0,212.2 547.5,212.2 548.0,212.2 548.5,212.1 549.0,212.3 549.5,212.1 550.0,212.3 550.5,212.1 551.0,212.1 551.5,212.1 552.0,212.3 552.5,212.3 553.0,212.1 553.5,212.2 554.0,212.2 554.5,212.3 555.0,212.1 555.5,212.2 556.0,212.2 556.5,212.3 557.0,211.8 557.5,210.1 558.0,208.1 558.5,206.8 559.0,207.9 559.5,208.7 560.0,209.2 560.5,209.9 561.0,210.2 561.5,210.7 562.0,210.9 562.5,211.2 563.0,211.4 563.5,211.5 564.0,211.6 564.5,211.7 565.0,211.9 565.5,211.8 566.0,212.0 566.5,211.9 567.0,212.0 567.5,212.0 568.0,212.2 568.5,212.1 569.0,212.1 569.5,212.2 570.0,212.1 570.5,212.1 571.0,212.2 571.5,212.2 572.0,212.2 572.5,212.2 573.0,212.1 573.5,212.1 574.0,212.1 574.5,212.3 575.0,212.2 575.5,212.3 576.0,212.1 576.5,212.2 577.0,212.3 577.5,212.2 578.0,212.1 578.5,212.2 579.0,212.3 579.5,212.1 580.0,212.1 580.5,212.2 581.0,212.2 581.5,212.3 582.0,212.1 582.5,212.1 583.0,212.1 583.5,212.2 584.0,212.2 584.5,212.1 585.0,212.2 585.5,212.1 586.0,212.3 586.5,212.3 587.0,212.1 587.5,212.3 588.0,212.1 588.5,210.7 589.0,209.0 589.5,207.1 590.0,207.6 590.5,208.3 591.0,209.0 591.5,209.7 592.0,210.0 592.5,210.4 593.0,210.8 593.5,210.9 594.0,211.2 594.5,211.5 595.0,211.6 595.5,211.7 596.0,211.8 596.5,211.8 597.0,211.8 597.5,212.0 598.0,212.0 598.5,212.1 599.0,212.2 599.5,212.1 600.0,212.1 600.5,212.2 601.0,212.1 601.5,212.1 602.0,212.2 602.5,212.3 603.0,212.2 603.5,212.2 604.0,212.3 604.5,212.2 605.0,212.2 605.5,212.2 606.0,212.1 606.5,212.2 607.0,212.1 607.5,212.2 608.0,212.3 608.5,212.2 609.0,212.2 609.5,212.1 610.0,212.2 610.5,212.2 611.0,212.2 611.5,212.2 612.0,212.2 612.5,212.3 613.0,212.1 613.5,212.2 614.0,212.3 614.5,212.2 615.0,212.2 615.5,212.3 616.0,212.1 616.5,212.2 617.0,212.1 617.5,212.3 618.0,212.3 618.5,212.2 619.0,212.1 619.5,212.2 620.0,211.8 620.5,210.1 621.0,208.2 621.5,206.9 622.0,208.0 622.5,208.7 623.0,209.3 623.5,209.9 624.0,210.2 624.5,210.7 625.0,210.9 625.5,211.2 626.0,211.2 626.5,211.6 627.0,211.6 627.5,211.6 628.0,211.8 628.5,211.9 629.0,211.8 629.5,212.0 630.0,212.0 630.5,212.1 631.0,212.0 631.5,212.0 632.0,212.1 632.5,212.2 633.0,212.3 633.5,212.2 634.0,212.1 634.5,212.2 635.0,212.2 635.5,212.1 636.0,212.1 636.5,212.3 637.0,212.3 637.5,212.2 638.0,212.2 638.5,212.2 639.0,212.1 639.5,212.3 640.0,212.2 640.5,212.2 641.0,212.3 641.5,212.3 642.0,212.2 642.5,212.1 643.0,212.2 643.5,212.1 644.0,212.3 644.5,212.2 645.0,212.3 645.5,212.1 646.0,212.2 646.5,212.1 647.0,212.2 647.5,212.1 648.0,212.1 648.5,212.3 649.0,212.1 649.5,212.1 650.0,212.2 650.5,212.2 651.0,212.2 651.5,212.2 652.0,210.4 652.5,208.5 653.0,206.8 653.5,207.8 654.0,208.4 654.5,209.3 655.0,209.8 655.5,210.2 656.0,210.5 656.5,210.9 657.0,211.1 657.5,211.2 658.0,211.3 658.5,211.7 659.0,211.7 659.5,211.7 660.0,211.8 660.5,211.8 661.0,211.9 661.5,212.1 662.0,212.0 662.5,212.0 663.0,212.2 663.5,212.2 664.0,212.1 664.5,212.2 665.0,212.2 665.5,212.2 666.0,212.2 666.5,212.3 667.0,212.2 667.5,212.3 668.0,212.1 668.5,212.2 669.0,212.2 669.5,212.3 670.0,212.2 670.5,212.3 671.0,212.2 671.5,212.1 672.0,212.1 672.5,212.1 673.0,212.2 673.5,212.1 674.0,212.2 674.5,212.1 675.0,212.2 675.5,212.2 676.0,212.2 676.5,212.3 677.0,212.1 677.5,212.3 678.0,212.2 678.5,212.2 679.0,212.2 679.5,212.3 680.0,212.2 680.5,212.2 681.0,212.3" fill="none" stroke="#555" stroke-width="0.9" stroke-linejoin="round" />
<polyline points="696.0,211.9 696.2,212.3 696.5,212.3 696.8,211.9 697.0,212.3 697.2,212.3 697.5,212.5 697.8,212.1 698.0,212.5 698.2,212.2 698.5,212.2 698.8,212.4 699.0,211.9 699.2,212.3 699.5,212.3 699.8,212.1 700.0,212.4 700.2,212.1 700.5,212.2 700.8,212.2 701.0,212.4 701.2,212.0 701.5,212.2 701.8,212.2 702.0,212.2 702.2,212.4 702.5,212.1 702.8,212.4 703.0,212.1 703.2,212.2 703.5,212.1 703.8,212.2 704.0,212.5 704.2,212.3 704.5,212.4 704.8,212.1 705.0,212.1 705.2,212.1 705.5,212.3 705.8,212.3 706.0,212.4 706.2,211.9 706.5,212.3 706.8,212.4 707.0,212.2 707.2,210.9 707.5,207.5 707.8,202.3 708.0,196.4 708.2,189.9 708.5,182.0 708.8,175.5 709.0,177.0 709.2,179.2 709.5,181.7 709.8,184.8 710.0,188.1 710.2,191.5 710.5,194.6 710.8,197.6 711.0,200.0 711.2,202.5 711.5,204.2 711.8,205.8 712.0,206.6 712.2,207.5 712.5,208.1 712.8,209.1 713.0,209.5 713.2,209.7 713.5,209.8 713.8,210.3 714.0,210.5 714.2,210.5 714.5,210.4 714.8,210.6 715.0,210.8 715.2,210.8 715.5,211.0 715.8,211.2 716.0,211.5 716.2,211.0 716.5,211.4 716.8,211.2 717.0,211.3 717.2,211.7 717.5,211.7 717.8,211.9 718.0,211.7 718.2,211.4 718.5,211.7 718.8,211.9 719.0,212.1 719.2,212.2 719.5,211.9 719.8,211.9 720.0,211.7 720.2,212.1 720.5,211.8 720.8,211.8 721.0,211.7 721.2,211.7 721.5,212.2 721.8,211.8 722.0,212.3 722.2,211.8 722.5,212.3 722.8,211.9 723.0,211.8 723.2,212.2 723.5,212.0 723.8,212.3 724.0,211.9 724.2,211.9 724.5,212.3 724.8,212.3 725.0,212.4 725.2,212.3 725.5,211.9 725.8,212.2 726.0,212.3 726.2,212.1 726.5,212.4 726.8,212.0 727.0,212.5 727.2,212.3 727.5,211.9 727.8,211.9 728.0,212.3 728.2,212.4 728.5,211.9 728.8,212.1 729.0,212.3 729.2,212.0 729.5,212.4 729.8,212.2 730.0,211.9 730.2,212.1 730.5,212.2 730.8,212.2 731.0,212.3 731.2,212.0 731.5,212.4 731.8,212.1 732.0,212.3 732.2,212.3 732.5,212.1 732.8,212.1 733.0,212.4 733.2,212.5 733.5,212.4 733.8,212.2 734.0,212.1 734.2,211.9 734.5,212.5 734.8,212.3 735.0,212.4 735.2,212.1 735.5,212.3 735.8,212.5 736.0,212.4 736.2,212.3 736.5,212.1 736.8,212.2 737.0,212.4 737.2,212.1 737.5,212.3 737.8,212.3 738.0,212.4 738.2,212.4 738.5,212.1 738.8,211.9 739.0,212.1 739.2,212.2 739.5,211.7 739.8,208.6 740.0,203.9 740.2,197.6 740.5,191.3 740.8,183.7 741.0,175.4 741.2,176.5 741.5,178.3 741.8,181.3 742.0,184.3 742.2,187.5 742.5,191.0 742.8,193.9 743.0,196.7 743.2,199.7 743.5,202.1 743.8,203.7 744.0,205.5 744.2,206.9 744.5,207.4 744.8,208.3 745.0,208.9 745.2,209.2 745.5,209.4 745.8,209.7 746.0,210.2 746.2,210.4 746.5,210.4 746.8,210.3 747.0,210.9 747.2,211.0 747.5,210.8 747.8,211.1 748.0,211.4 748.2,211.4 748.5,211.3 748.8,211.3 749.0,211.5 749.2,211.3 749.5,211.4 749.8,211.4 750.0,211.8 750.2,211.6 750.5,211.8 750.8,211.7 751.0,211.8 751.2,211.6 751.5,211.6 751.8,212.2 752.0,211.8 752.2,211.7 752.5,212.0 752.8,212.2 753.0,211.8 753.2,212.1 753.5,211.9 753.8,212.1 754.0,211.8 754.2,211.8 754.5,212.4 754.8,212.3 755.0,212.1 755.2,212.1 755.5,212.0 755.8,212.3 756.0,212.1 756.2,212.4 756.5,212.3 756.8,212.3 757.0,212.4 757.2,212.0 757.5,211.9 757.8,212.0 758.0,212.0 758.2,211.9 758.5,211.9 758.8,212.2 759.0,212.4 759.2,212.1 759.5,212.4 759.8,212.4 760.0,211.9 760.2,212.2 760.5,212.1 760.8,212.0 761.0,212.5 761.2,212.0 761.5,212.2 761.8,212.3 762.0,212.5 762.2,212.3 762.5,212.1 762.8,212.2 763.0,212.0 763.2,212.5 763.5,212.5 763.8,212.0 764.0,211.9 764.2,212.0 764.5,212.1 764.8,212.4 765.0,212.4 765.2,212.4 765.5,211.9 765.8,212.4 766.0,212.3 766.2,212.3 766.5,212.5 766.8,211.9 767.0,212.0 767.2,212.4 767.5,212.5 767.8,212.3 768.0,212.1 768.2,212.3 768.5,212.4 768.8,212.0 769.0,212.1 769.2,212.1 769.5,212.0 769.8,212.2 770.0,212.0 770.2,212.0 770.5,212.0 770.8,212.3 771.0,211.9 771.2,211.3 771.5,207.4 771.8,202.3 772.0,196.8 772.2,189.5 772.5,182.2 772.8,175.6 773.0,177.1 773.2,178.7 773.5,181.6 773.8,184.5 774.0,188.3 774.2,191.6 774.5,194.7 774.8,197.5 775.0,200.0 775.2,202.6 775.5,204.2 775.8,205.7 776.0,206.6 776.2,207.5 776.5,208.1 776.8,209.0 777.0,209.3 777.2,209.4 777.5,210.1 777.8,210.0 778.0,210.2 778.2,210.2 778.5,210.5 778.8,210.9 779.0,210.7 779.2,210.7 779.5,211.0 779.8,211.0 780.0,211.5 780.2,211.1 780.5,211.7 780.8,211.2 781.0,211.7 781.2,211.7 781.5,211.4 781.8,211.6 782.0,211.6 782.2,211.6 782.5,211.6 782.8,211.7 783.0,212.1 783.2,212.2 783.5,212.2 783.8,211.7 784.0,211.8 784.2,212.2 784.5,211.7 784.8,212.1 785.0,211.9 785.2,212.3 785.5,211.8 785.8,212.2 786.0,212.0 786.2,211.9 786.5,211.8 786.8,212.3 787.0,212.1 787.2,211.9 787.5,212.1 787.8,212.4 788.0,212.0 788.2,212.2 788.5,211.9 788.8,212.0 789.0,212.3 789.2,212.3 789.5,212.0 789.8,211.9 790.0,211.9 790.2,212.2 790.5,212.2 790.8,212.0 791.0,212.0 791.2,212.2 791.5,212.3 791.8,212.4 792.0,212.2 792.2,212.0 792.5,211.9 792.8,212.3 793.0,212.1 793.2,212.3 793.5,211.9 793.8,212.4 794.0,212.1 794.2,212.4 794.5,212.4 794.8,212.2 795.0,211.9 795.2,212.4 795.5,212.2 795.8,212.4 796.0,212.1 796.2,212.0 796.5,212.4 796.8,212.1 797.0,212.0 797.2,212.1 797.5,212.3 797.8,211.9 798.0,212.2 798.2,212.2 798.5,212.2 798.8,212.0 799.0,212.3 799.2,212.4 799.5,212.4 799.8,212.1 800.0,212.3 800.2,212.1 800.5,212.3 800.8,211.9 801.0,212.4 801.2,212.5 801.5,212.2 801.8,212.2 802.0,212.2 802.2,212.2 802.5,211.9 802.8,212.5 803.0,210.4 803.2,206.5 803.5,201.3 803.8,195.1 804.0,188.4 804.2,180.0 804.5,175.4 804.8,177.3 805.0,179.3 805.2,181.9 805.5,185.4 805.8,188.7 806.0,192.0 806.2,195.3 806.5,197.8 806.8,200.8 807.0,202.9 807.2,204.2 807.5,205.7 807.8,207.0 808.0,207.8 808.2,208.4 808.5,208.8 808.8,209.3 809.0,209.5 809.2,210.0 809.5,210.3 809.8,210.1 810.0,210.5 810.2,210.8 810.5,210.5 810.8,211.1 811.0,211.2 811.2,211.0 811.5,211.1 811.8,211.4 812.0,211.3 812.2,211.3 812.5,211.7 812.8,211.7 813.0,211.5 813.2,211.5 813.5,211.6 813.8,211.7 814.0,212.0 814.2,212.0 814.5,212.1 814.8,212.0 815.0,212.1 815.2,211.6 815.5,211.9 815.8,212.2 816.0,212.2 816.2,211.8 816.5,212.0 816.8,212.1 817.0,212.0 817.2,212.1 817.5,211.8 817.8,212.0 818.0,212.1 818.2,211.8 818.5,211.9 818.8,212.4 819.0,212.3 819.2,212.4 819.5,212.2 819.8,212.3 820.0,212.4 820.2,212.4 820.5,211.9 820.8,212.2 821.0,212.0 821.2,212.3 821.5,212.0 821.8,212.2 822.0,212.4 822.2,212.2 822.5,212.0 822.8,212.2 823.0,212.1 823.2,212.4 823.5,212.1 823.8,212.1 824.0,212.3 824.2,212.0 824.5,212.2 824.8,212.5 825.0,212.2 825.2,212.1 825.5,212.2 825.8,212.2 826.0,212.0 826.2,212.0 826.5,212.0 826.8,212.1 827.0,212.1 827.2,212.1 827.5,212.0 827.8,211.9 828.0,212.2 828.2,212.4 828.5,212.3 828.8,212.2 829.0,212.3 829.2,212.0 829.5,212.3 829.8,212.2 830.0,212.2 830.2,212.3 830.5,212.2 830.8,212.1 831.0,212.0 831.2,212.0 831.5,212.2 831.8,212.1 832.0,212.3 832.2,211.9 832.5,212.1 832.8,212.4 833.0,212.0 833.2,212.2 833.5,212.2 833.8,212.1 834.0,212.5 834.2,211.0 834.5,207.7 834.8,202.4 835.0,196.3 835.2,189.9 835.5,181.9 835.8,175.1 836.0,176.8 836.2,178.9 836.5,181.8 836.8,184.5 837.0,187.9 837.2,191.6 837.5,194.7 837.8,197.3 838.0,200.0 838.2,202.3 838.5,204.3 838.8,205.7 839.0,207.0 839.2,207.9 839.5,208.4 839.8,209.0 840.0,209.4 840.2,209.8 840.5,209.9 840.8,210.3 841.0,210.4 841.2,210.7 841.5,210.4 841.8,210.9 842.0,210.5 842.2,211.1 842.5,211.1 842.8,211.1 843.0,211.5 843.2,211.3 843.5,211.3 843.8,211.6 844.0,211.7 844.2,211.6 844.5,211.5 844.8,211.6 845.0,211.7 845.2,211.9 845.5,211.7 845.8,211.7 846.0,211.9" fill="none" stroke="#333" stroke-width="1.0" stroke-linejoin="round" />
<text x="517.7" y="304.8" font-size="9.4" text-anchor="end" fill="#111" font-weight="normal" dominant-baseline="central" >0.5 mN</text>
<line x1="522.70" y1="298.80" x2="522.70" y2="310.80" stroke="#111" stroke-width="1.6" />
<line x1="531.00" y1="319.00" x2="562.00" y2="319.00" stroke="#111" stroke-width="1.6" />
<text x="546.0" y="330.0" font-size="9.4" text-anchor="middle" fill="#111" font-weight="normal" dominant-baseline="central" >2s</text>
<polyline points="531.0,310.2 531.5,310.2 532.0,310.3 532.5,310.3 533.0,310.2 533.5,310.2 534.0,310.1 534.5,310.2 535.0,310.1 535.5,310.2 536.0,310.2 536.5,310.1 537.0,310.3 537.5,310.2 538.0,310.3 538.5,310.3 539.0,310.3 539.5,310.1 540.0,310.2 540.5,310.3 541.0,310.1 541.5,310.1 542.0,310.2 542.5,310.2 543.0,310.3 543.5,310.3 544.0,310.2 544.5,310.3 545.0,310.2 545.5,310.2 546.0,310.2 546.5,310.2 547.0,310.2 547.5,310.2 548.0,310.2 548.5,310.3 549.0,310.2 549.5,310.2 550.0,310.1 550.5,310.2 551.0,310.2 551.5,310.2 552.0,310.2 552.5,310.3 553.0,310.3 553.5,310.2 554.0,310.2 554.5,310.2 555.0,310.3 555.5,310.2 556.0,310.1 556.5,309.5 557.0,308.7 557.5,308.2 558.0,308.6 558.5,308.8 559.0,308.9 559.5,308.9 560.0,309.3 560.5,309.3 561.0,309.5 561.5,309.6 562.0,309.7 562.5,309.6 563.0,309.6 563.5,309.7 564.0,309.8 564.5,309.9 565.0,309.8 565.5,309.9 566.0,310.0 566.5,310.0 567.0,310.0 567.5,310.2 568.0,310.1 568.5,310.0 569.0,310.1 569.5,310.2 570.0,310.1 570.5,310.2 571.0,310.0 571.5,310.1 572.0,310.2 572.5,310.2 573.0,310.2 573.5,310.1 574.0,310.2 574.5,310.2 575.0,310.1 575.5,310.2 576.0,310.2 576.5,310.3 577.0,310.2 577.5,310.2 578.0,310.1 578.5,310.1 579.0,310.3 579.5,310.1 580.0,310.1 580.5,310.1 581.0,310.2 581.5,310.3 582.0,310.2 582.5,310.3 583.0,310.1 583.5,310.1 584.0,310.3 584.5,310.2 585.0,310.2 585.5,310.2 586.0,310.1 586.5,310.1 587.0,310.1 587.5,310.0 588.0,309.3 588.5,308.6 589.0,308.3 589.5,308.5 590.0,308.6 590.5,309.0 591.0,309.1 591.5,309.3 592.0,309.3 592.5,309.4 593.0,309.4 593.5,309.5 594.0,309.8 594.5,309.8 595.0,309.7 595.5,309.9 596.0,309.9 596.5,309.9 597.0,310.0 597.5,310.1 598.0,310.0 598.5,310.1 599.0,310.0 599.5,310.0 600.0,310.1 600.5,310.0 601.0,310.1 601.5,310.2 602.0,310.1 602.5,310.2 603.0,310.1 603.5,310.1 604.0,310.1 604.5,310.1 605.0,310.3 605.5,310.1 606.0,310.2 606.5,310.1 607.0,310.2 607.5,310.2 608.0,310.2 608.5,310.1 609.0,310.1 609.5,310.3 610.0,310.2 610.5,310.1 611.0,310.1 611.5,310.1 612.0,310.1 612.5,310.1 613.0,310.2 613.5,310.2 614.0,310.1 614.5,310.2 615.0,310.1 615.5,310.1 616.0,310.3 616.5,310.1 617.0,310.2 617.5,310.3 618.0,310.3 618.5,310.1 619.0,309.5 619.5,308.9 620.0,308.2 620.5,308.5 621.0,308.6 621.5,308.9 622.0,309.0 622.5,309.1 623.0,309.2 623.5,309.3 624.0,309.5 624.5,309.5 625.0,309.7 625.5,309.7 626.0,309.7 626.5,309.7 627.0,309.9 627.5,309.8 628.0,310.0 628.5,309.9 629.0,310.0 629.5,310.0 630.0,310.0 630.5,310.1 631.0,310.0 631.5,310.1 632.0,310.1 632.5,310.1 633.0,310.1 633.5,310.0 634.0,310.1 634.5,310.2 635.0,310.1 635.5,310.2 636.0,310.1 636.5,310.2 637.0,310.1 637.5,310.2 638.0,310.1 638.5,310.1 639.0,310.1 639.5,310.1 640.0,310.1 640.5,310.2 641.0,310.1 641.5,310.2 642.0,310.3 642.5,310.3 643.0,310.3 643.5,310.3 644.0,310.1 644.5,310.1 645.0,310.1 645.5,310.2 646.0,310.2 646.5,310.2 647.0,310.2 647.5,310.2 648.0,310.2 648.5,310.1 649.0,310.3 649.5,310.2 650.0,310.2 650.5,309.9 651.0,309.2 651.5,308.7 652.0,308.4 652.5,308.6 653.0,308.6 653.5,308.8 654.0,309.0 654.5,309.1 655.0,309.3 655.5,309.4 656.0,309.4 656.5,309.5 657.0,309.7 657.5,309.6 658.0,309.9 658.5,309.8 659.0,309.9 659.5,309.8 660.0,309.9 660.5,310.0 661.0,310.0 661.5,309.9 662.0,310.1 662.5,310.1 663.0,310.0 663.5,310.0 664.0,310.2 664.5,310.1 665.0,310.0 665.5,310.1 666.0,310.0 666.5,310.2 667.0,310.1 667.5,310.3 668.0,310.2 668.5,310.1 669.0,310.2 669.5,310.2 670.0,310.2 670.5,310.3 671.0,310.1 671.5,310.1 672.0,310.3 672.5,310.2 673.0,310.3 673.5,310.2 674.0,310.2 674.5,310.3 675.0,310.2 675.5,310.2 676.0,310.1 676.5,310.2 677.0,310.2 677.5,310.2 678.0,310.3 678.5,310.1 679.0,310.3 679.5,310.1 680.0,310.2 680.5,310.3 681.0,310.1" fill="none" stroke="#555" stroke-width="0.9" stroke-linejoin="round" />
<polyline points="693.0,310.2 693.2,310.5 693.5,310.3 693.8,310.2 694.0,310.0 694.2,309.9 694.5,310.1 694.8,310.1 695.0,310.0 695.2,310.1 695.5,310.0 695.8,310.3 696.0,310.3 696.2,310.0 696.5,310.0 696.8,310.2 697.0,310.2 697.2,310.5 697.5,310.1 697.8,310.1 698.0,310.4 698.2,310.0 698.5,310.2 698.8,310.1 699.0,310.4 699.2,310.2 699.5,310.4 699.8,310.0 700.0,310.3 700.2,310.3 700.5,310.2 700.8,310.4 701.0,310.4 701.2,310.0 701.5,310.1 701.8,310.1 702.0,310.0 702.2,309.9 702.5,310.1 702.8,310.0 703.0,310.3 703.2,310.2 703.5,310.0 703.8,310.1 704.0,310.2 704.2,310.1 704.5,310.0 704.8,309.9 705.0,308.4 705.2,305.3 705.5,300.3 705.8,294.0 706.0,287.7 706.2,280.5 706.5,275.8 706.8,277.0 707.0,279.4 707.2,282.0 707.5,284.8 707.8,288.1 708.0,290.9 708.2,294.5 708.5,297.0 708.8,299.4 709.0,301.6 709.2,303.1 709.5,304.1 709.8,305.2 710.0,305.9 710.2,306.4 710.5,307.3 710.8,307.7 711.0,307.7 711.2,307.9 711.5,308.3 711.8,308.6 712.0,308.8 712.2,308.5 712.5,309.0 712.8,309.1 713.0,309.2 713.2,309.0 713.5,309.0 713.8,309.5 714.0,309.3 714.2,309.4 714.5,309.5 714.8,309.5 715.0,309.8 715.2,309.5 715.5,309.4 715.8,309.8 716.0,309.9 716.2,310.0 716.5,310.0 716.8,310.1 717.0,310.2 717.2,309.9 717.5,309.9 717.8,309.8 718.0,309.9 718.2,310.0 718.5,309.8 718.8,310.1 719.0,309.8 719.2,310.0 719.5,310.3 719.8,309.8 720.0,309.8 720.2,310.1 720.5,309.9 720.8,310.2 721.0,309.8 721.2,310.3 721.5,310.3 721.8,310.3 722.0,310.1 722.2,310.0 722.5,310.2 722.8,310.2 723.0,310.1 723.2,310.1 723.5,310.1 723.8,310.3 724.0,310.4 724.2,310.4 724.5,310.0 724.8,310.1 725.0,310.1 725.2,310.2 725.5,310.1 725.8,310.0 726.0,309.9 726.2,310.1 726.5,310.2 726.8,310.5 727.0,310.4 727.2,310.4 727.5,310.5 727.8,310.5 728.0,310.3 728.2,310.4 728.5,309.9 728.8,310.3 729.0,310.3 729.2,310.1 729.5,310.2 729.8,310.5 730.0,310.2 730.2,310.3 730.5,310.1 730.8,310.1 731.0,310.4 731.2,309.9 731.5,310.0 731.8,310.3 732.0,310.2 732.2,309.9 732.5,310.3 732.8,310.1 733.0,310.2 733.2,310.1 733.5,310.2 733.8,310.2 734.0,310.1 734.2,310.0 734.5,310.0 734.8,310.4 735.0,310.2 735.2,310.0 735.5,310.4 735.8,310.1 736.0,310.0 736.2,310.2 736.5,310.1 736.8,310.0 737.0,307.4 737.2,303.0 737.5,297.9 737.8,291.5 738.0,284.7 738.2,277.1 738.5,276.1 738.8,278.0 739.0,280.1 739.2,283.1 739.5,286.4 739.8,289.4 740.0,292.6 740.2,295.5 740.5,297.7 740.8,300.4 741.0,302.2 741.2,303.3 741.5,304.9 741.8,305.6 742.0,306.2 742.2,307.2 742.5,307.4 742.8,307.8 743.0,307.7 743.2,308.3 743.5,308.1 743.8,308.3 744.0,308.6 744.2,308.5 744.5,308.9 744.8,308.8 745.0,309.0 745.2,309.3 745.5,309.2 745.8,309.6 746.0,309.5 746.2,309.7 746.5,309.6 746.8,309.8 747.0,309.8 747.2,309.5 747.5,309.9 747.8,309.7 748.0,309.9 748.2,309.9 748.5,310.0 748.8,309.7 749.0,309.8 749.2,310.1 749.5,310.2 749.8,310.1 750.0,309.7 750.2,310.1 750.5,309.8 750.8,310.1 751.0,310.2 751.2,309.8 751.5,310.3 751.8,310.2 752.0,309.9 752.2,309.9 752.5,310.1 752.8,310.3 753.0,310.2 753.2,309.9 753.5,309.8 753.8,309.9 754.0,310.3 754.2,310.0 754.5,310.2 754.8,310.0 755.0,310.3 755.2,310.1 755.5,310.0 755.8,310.4 756.0,310.2 756.2,310.3 756.5,310.4 756.8,310.4 757.0,309.9 757.2,310.1 757.5,310.0 757.8,310.2 758.0,310.4 758.2,310.4 758.5,309.9 758.8,310.0 759.0,310.4 759.2,310.3 759.5,310.1 759.8,310.2 760.0,310.0 760.2,310.4 760.5,310.1 760.8,310.4 761.0,310.3 761.2,309.9 761.5,310.1 761.8,310.0 762.0,310.4 762.2,310.2 762.5,309.9 762.8,310.0 763.0,310.1 763.2,310.2 763.5,310.2 763.8,310.1 764.0,310.1 764.2,309.9 764.5,310.2 764.8,310.1 765.0,309.9 765.2,310.2 765.5,310.5 765.8,309.9 766.0,310.0 766.2,310.3 766.5,310.1 766.8,310.1 767.0,310.2 767.2,310.1 767.5,310.2 767.8,310.2 768.0,310.5 768.2,310.5 768.5,309.4 768.8,306.7 769.0,302.4 769.2,296.9 769.5,290.5 769.8,283.3 770.0,275.5 770.2,276.5 770.5,278.3 770.8,281.1 771.0,284.0 771.2,287.1 771.5,290.1 771.8,292.9 772.0,296.0 772.2,298.5 772.5,300.6 772.8,302.4 773.0,303.7 773.2,305.0 773.5,305.8 773.8,306.2 774.0,306.9 774.2,307.3 774.5,308.0 774.8,308.0 775.0,308.1 775.2,308.2 775.5,308.4 775.8,308.6 776.0,308.6 776.2,308.6 776.5,309.2 776.8,309.1 777.0,309.2 777.2,309.3 777.5,309.2 777.8,309.2 778.0,309.2 778.2,309.4 778.5,309.5 778.8,309.8 779.0,309.7 779.2,310.0 779.5,309.7 779.8,310.0 780.0,309.9 780.2,309.6 780.5,309.7 780.8,310.0 781.0,310.2 781.2,309.9 781.5,310.1 781.8,309.9 782.0,310.2 782.2,309.8 782.5,310.0 782.8,310.3 783.0,309.9 783.2,309.9 783.5,309.8 783.8,309.9 784.0,310.0 784.2,310.2 784.5,309.9 784.8,310.1 785.0,309.9 785.2,310.2 785.5,310.4 785.8,310.2 786.0,310.0 786.2,310.3 786.5,310.4 786.8,310.2 787.0,309.9 787.2,310.4 787.5,310.4 787.8,310.1 788.0,310.0 788.2,310.0 788.5,310.2 788.8,310.4 789.0,310.3 789.2,310.4 789.5,310.0 789.8,310.1 790.0,310.3 790.2,310.3 790.5,310.1 790.8,310.3 791.0,310.1 791.2,309.9 791.5,310.1 791.8,309.9 792.0,310.3 792.2,310.1 792.5,310.2 792.8,310.3 793.0,310.0 793.2,310.2 793.5,309.9 793.8,310.5 794.0,310.2 794.2,310.5 794.5,309.9 794.8,310.3 795.0,310.3 795.2,310.1 795.5,310.0 795.8,310.0 796.0,310.0 796.2,310.4 796.5,310.0 796.8,310.4 797.0,310.2 797.2,310.2 797.5,310.3 797.8,310.2 798.0,310.3 798.2,310.3 798.5,310.1 798.8,310.3 799.0,310.1 799.2,310.3 799.5,310.4 799.8,310.4 800.0,310.1 800.2,310.2 800.5,307.7 800.8,303.2 801.0,297.8 801.2,291.7 801.5,285.0 801.8,276.8 802.0,276.0 802.2,278.0 802.5,280.5 802.8,283.3 803.0,286.1 803.2,289.7 803.5,292.3 803.8,295.5 804.0,297.7 804.2,299.9 804.5,301.8 804.8,303.3 805.0,304.7 805.2,305.7 805.5,306.2 805.8,307.2 806.0,307.2 806.2,307.4 806.5,307.7 806.8,308.3 807.0,308.6 807.2,308.3 807.5,308.3 807.8,308.9 808.0,308.7 808.2,309.3 808.5,309.1 808.8,309.3 809.0,309.2 809.2,309.5 809.5,309.4 809.8,309.4 810.0,309.8 810.2,309.3 810.5,309.8 810.8,309.4 811.0,309.8 811.2,309.7 811.5,310.0 811.8,309.6 812.0,309.9 812.2,309.8 812.5,310.2 812.8,310.2 813.0,310.0 813.2,309.8 813.5,309.8 813.8,309.9 814.0,310.0 814.2,309.9 814.5,309.9 814.8,310.2 815.0,310.2 815.2,310.0 815.5,310.4 815.8,309.9 816.0,310.1 816.2,309.9 816.5,310.3 816.8,310.4 817.0,310.0 817.2,310.3 817.5,310.3 817.8,310.0 818.0,310.1 818.2,310.1 818.5,310.4 818.8,310.0 819.0,310.3 819.2,310.2 819.5,310.1 819.8,310.2 820.0,310.4 820.2,310.0 820.5,310.4 820.8,310.1 821.0,310.4 821.2,310.4 821.5,310.0 821.8,310.4 822.0,310.5 822.2,310.1 822.5,309.9 822.8,310.0 823.0,310.5 823.2,309.9 823.5,310.4 823.8,310.0 824.0,310.3 824.2,310.0 824.5,310.0 824.8,310.3 825.0,309.9 825.2,310.1 825.5,310.4 825.8,310.3 826.0,310.4 826.2,310.5 826.5,309.9 826.8,310.0 827.0,310.4 827.2,310.3 827.5,309.9 827.8,310.2 828.0,310.0 828.2,310.2 828.5,310.0 828.8,309.9 829.0,310.5 829.2,310.1 829.5,310.4 829.8,310.0 830.0,310.2 830.2,310.0 830.5,310.2 830.8,310.0 831.0,310.3 831.2,310.0 831.5,310.3 831.8,310.2 832.0,309.4 832.2,306.6 832.5,302.2 832.8,297.0 833.0,290.3 833.2,283.1 833.5,275.7 833.8,276.8 834.0,278.6 834.2,280.8 834.5,283.6 834.8,286.7 835.0,289.7 835.2,292.8 835.5,295.9 835.8,298.3 836.0,300.6 836.2,302.3 836.5,303.5 836.8,305.0 837.0,305.9 837.2,306.5 837.5,307.0 837.8,307.5 838.0,308.0 838.2,308.2 838.5,308.3 838.8,308.3 839.0,308.4 839.2,308.6 839.5,309.1 839.8,308.8 840.0,308.9 840.2,309.0 840.5,309.0 840.8,309.6 841.0,309.0 841.2,309.5 841.5,309.7 841.8,309.4 842.0,309.7 842.2,309.6 842.5,309.5 842.8,309.5 843.0,309.5" fill="none" stroke="#333" stroke-width="1.0" stroke-linejoin="round" />
<text x="520.4" y="385.0" font-size="9.4" text-anchor="end" fill="#111" font-weight="normal" dominant-baseline="central" >0.5 mN</text>
<line x1="525.40" y1="379.00" x2="525.40" y2="391.00" stroke="#111" stroke-width="1.6" />
<line x1="533.50" y1="400.00" x2="564.50" y2="400.00" stroke="#111" stroke-width="1.6" />
<text x="548.5" y="411.6" font-size="9.4" text-anchor="middle" fill="#111" font-weight="normal" dominant-baseline="central" >2s</text>
<polyline points="534.0,391.7 534.5,391.7 535.0,391.7 535.5,391.5 536.0,391.6 536.5,391.6 537.0,391.6 537.5,391.6 538.0,391.6 538.5,391.7 539.0,391.5 539.5,391.7 540.0,391.7 540.5,391.6 541.0,391.6 541.5,391.7 542.0,391.5 542.5,391.6 543.0,391.7 543.5,391.6 544.0,391.7 544.5,391.6 545.0,391.6 545.5,391.3 546.0,390.5 546.5,389.6 547.0,389.3 547.5,389.5 548.0,389.7 548.5,390.0 549.0,390.1 549.5,390.4 550.0,390.5 550.5,390.7 551.0,390.7 551.5,390.8 552.0,390.9 552.5,390.9 553.0,391.2 553.5,391.1 554.0,391.2 554.5,391.2 555.0,391.4 555.5,391.3 556.0,391.3 556.5,391.5 557.0,391.4 557.5,391.5 558.0,391.5 558.5,391.6 559.0,391.6 559.5,391.4 560.0,391.5 560.5,391.6 561.0,391.6 561.5,391.4 562.0,391.5 562.5,391.5 563.0,391.5 563.5,391.5 564.0,391.6 564.5,391.6 565.0,391.6 565.5,391.5 566.0,391.6 566.5,391.7 567.0,391.6 567.5,391.6 568.0,391.6 568.5,391.7 569.0,391.7 569.5,391.5 570.0,391.6 570.5,391.6 571.0,391.6 571.5,391.5 572.0,391.6 572.5,391.6 573.0,391.6 573.5,391.5 574.0,391.5 574.5,391.6 575.0,391.5 575.5,391.5 576.0,391.7 576.5,391.5 577.0,391.2 577.5,390.4 578.0,389.7 578.5,389.1 579.0,389.5 579.5,389.8 580.0,389.9 580.5,390.1 581.0,390.4 581.5,390.5 582.0,390.6 582.5,390.6 583.0,390.8 583.5,390.9 584.0,391.0 584.5,391.0 585.0,391.1 585.5,391.2 586.0,391.3 586.5,391.2 587.0,391.3 587.5,391.4 588.0,391.5 588.5,391.3 589.0,391.5 589.5,391.5 590.0,391.4 590.5,391.5 591.0,391.5 591.5,391.4 592.0,391.6 592.5,391.5 593.0,391.5 593.5,391.5 594.0,391.6 594.5,391.6 595.0,391.4 595.5,391.6 596.0,391.6 596.5,391.6 597.0,391.7 597.5,391.6 598.0,391.6 598.5,391.7 599.0,391.6 599.5,391.6 600.0,391.6 600.5,391.7 601.0,391.6 601.5,391.7 602.0,391.6 602.5,391.5 603.0,391.6 603.5,391.6 604.0,391.7 604.5,391.7 605.0,391.5 605.5,391.5 606.0,391.5 606.5,391.7 607.0,391.5 607.5,391.5 608.0,391.7 608.5,391.6 609.0,390.7 609.5,390.0 610.0,389.1 610.5,389.4 611.0,389.5 611.5,389.9 612.0,390.1 612.5,390.3 613.0,390.5 613.5,390.6 614.0,390.8 614.5,390.7 615.0,390.8 615.5,391.0 616.0,390.9 616.5,391.2 617.0,391.1 617.5,391.2 618.0,391.2 618.5,391.2 619.0,391.4 619.5,391.4 620.0,391.4 620.5,391.4 621.0,391.3 621.5,391.4 622.0,391.6 622.5,391.6 623.0,391.6 623.5,391.5 624.0,391.5 624.5,391.4 625.0,391.6 625.5,391.5 626.0,391.5 626.5,391.6 627.0,391.6 627.5,391.5 628.0,391.6 628.5,391.5 629.0,391.7 629.5,391.6 630.0,391.5 630.5,391.5 631.0,391.6 631.5,391.6 632.0,391.6 632.5,391.5 633.0,391.5 633.5,391.7 634.0,391.5 634.5,391.6 635.0,391.7 635.5,391.6 636.0,391.6 636.5,391.7 637.0,391.6 637.5,391.7 638.0,391.5 638.5,391.6 639.0,391.6 639.5,391.5 640.0,391.7 640.5,391.0 641.0,390.3 641.5,389.4 642.0,389.4 642.5,389.6 643.0,389.9 643.5,390.0 644.0,390.2 644.5,390.4 645.0,390.5 645.5,390.6 646.0,390.8 646.5,390.8 647.0,391.0 647.5,390.9 648.0,391.0 648.5,391.0 649.0,391.3 649.5,391.4 650.0,391.3 650.5,391.4 651.0,391.3 651.5,391.5 652.0,391.5 652.5,391.3 653.0,391.3 653.5,391.5 654.0,391.4 654.5,391.6 655.0,391.5 655.5,391.5 656.0,391.5 656.5,391.5 657.0,391.6 657.5,391.5 658.0,391.7 658.5,391.5 659.0,391.6 659.5,391.5 660.0,391.6 660.5,391.7 661.0,391.6 661.5,391.5 662.0,391.6 662.5,391.6 663.0,391.5 663.5,391.6 664.0,391.5 664.5,391.6 665.0,391.6 665.5,391.6 666.0,391.6 666.5,391.5 667.0,391.7 667.5,391.5 668.0,391.7 668.5,391.7 669.0,391.7 669.5,391.6 670.0,391.5 670.5,391.6 671.0,391.7 671.5,391.6 672.0,390.9 672.5,389.8 673.0,389.1 673.5,389.5 674.0,389.7 674.5,389.9 675.0,390.0 675.5,390.2 676.0,390.4 676.5,390.7 677.0,390.8 677.5,390.7 678.0,391.0 678.5,390.9 679.0,391.1 679.5,391.2 680.0,391.1 680.5,391.3 681.0,391.3" fill="none" stroke="#555" stroke-width="0.9" stroke-linejoin="round" />
<polyline points="690.0,391.5 690.5,391.6 691.0,391.6 691.5,391.5 692.0,391.7 692.5,391.5 693.0,391.7 693.5,391.6 694.0,391.5 694.5,391.6 695.0,391.5 695.5,391.6 696.0,391.7 696.5,391.6 697.0,391.6 697.5,391.5 698.0,391.6 698.5,391.5 699.0,391.6 699.5,391.5 700.0,391.6 700.5,391.6 701.0,391.6 701.5,391.6 702.0,391.5 702.5,391.5 703.0,390.7 703.5,389.6 704.0,388.7 704.5,389.0 705.0,389.3 705.5,389.5 706.0,389.7 706.5,390.1 707.0,390.1 707.5,390.3 708.0,390.5 708.5,390.5 709.0,390.7 709.5,390.8 710.0,390.9 710.5,391.0 711.0,391.0 711.5,391.1 712.0,391.2 712.5,391.2 713.0,391.2 713.5,391.3 714.0,391.4 714.5,391.4 715.0,391.5 715.5,391.3 716.0,391.6 716.5,391.5 717.0,391.6 717.5,391.5 718.0,391.6 718.5,391.5 719.0,391.6 719.5,391.5 720.0,391.5 720.5,391.4 721.0,391.5 721.5,391.6 722.0,391.5 722.5,391.7 723.0,391.5 723.5,391.6 724.0,391.5 724.5,391.6 725.0,391.7 725.5,391.6 726.0,391.5 726.5,391.5 727.0,391.6 727.5,391.7 728.0,391.5 728.5,391.6 729.0,391.6 729.5,391.7 730.0,391.6 730.5,391.7 731.0,391.6 731.5,391.7 732.0,391.5 732.5,391.7 733.0,391.6 733.5,391.6 734.0,391.5 734.5,391.5 735.0,390.7 735.5,389.6 736.0,388.5 736.5,388.9 737.0,389.2 737.5,389.5 738.0,389.7 738.5,390.0 739.0,390.3 739.5,390.5 740.0,390.6 740.5,390.6 741.0,390.7 741.5,390.9 742.0,391.0 742.5,391.1 743.0,391.1 743.5,391.1 744.0,391.2 744.5,391.3 745.0,391.4 745.5,391.2 746.0,391.4 746.5,391.3 747.0,391.3 747.5,391.5 748.0,391.5 748.5,391.5 749.0,391.4 749.5,391.6 750.0,391.6 750.5,391.6 751.0,391.6 751.5,391.6 752.0,391.6 752.5,391.6 753.0,391.5 753.5,391.6 754.0,391.6 754.5,391.7 755.0,391.5 755.5,391.7 756.0,391.6 756.5,391.7 757.0,391.5 757.5,391.7 758.0,391.7 758.5,391.5 759.0,391.7 759.5,391.5 760.0,391.5 760.5,391.6 761.0,391.5 761.5,391.6 762.0,391.7 762.5,391.6 763.0,391.6 763.5,391.6 764.0,391.7 764.5,391.7 765.0,391.6 765.5,391.7 766.0,391.7 766.5,391.0 767.0,389.9 767.5,389.0 768.0,388.9 768.5,389.1 769.0,389.5 769.5,389.8 770.0,390.0 770.5,390.0 771.0,390.3 771.5,390.3 772.0,390.5 772.5,390.8 773.0,390.8 773.5,390.9 774.0,391.0 774.5,391.0 775.0,391.0 775.5,391.1 776.0,391.3 776.5,391.3 777.0,391.3 777.5,391.2 778.0,391.3 778.5,391.4 779.0,391.4 779.5,391.5 780.0,391.5 780.5,391.4 781.0,391.5 781.5,391.4 782.0,391.6 782.5,391.4 783.0,391.5 783.5,391.7 784.0,391.5 784.5,391.5 785.0,391.7 785.5,391.6 786.0,391.7 786.5,391.5 787.0,391.6 787.5,391.7 788.0,391.6 788.5,391.7 789.0,391.5 789.5,391.7 790.0,391.5 790.5,391.6 791.0,391.5 791.5,391.5 792.0,391.7 792.5,391.6 793.0,391.7 793.5,391.5 794.0,391.6 794.5,391.5 795.0,391.6 795.5,391.7 796.0,391.6 796.5,391.6 797.0,391.7 797.5,391.7 798.0,391.4 798.5,390.3 799.0,389.4 799.5,388.7 800.0,389.1 800.5,389.3 801.0,389.6 801.5,389.9 802.0,390.0 802.5,390.2 803.0,390.4 803.5,390.6 804.0,390.6 804.5,390.7 805.0,391.0 805.5,390.8 806.0,391.1 806.5,391.1 807.0,391.2 807.5,391.2 808.0,391.3 808.5,391.4 809.0,391.4 809.5,391.4 810.0,391.3 810.5,391.4 811.0,391.3 811.5,391.6 812.0,391.6 812.5,391.4 813.0,391.5 813.5,391.5 814.0,391.4 814.5,391.5 815.0,391.6 815.5,391.6 816.0,391.5 816.5,391.6 817.0,391.5 817.5,391.6 818.0,391.6 818.5,391.7 819.0,391.6 819.5,391.7 820.0,391.6 820.5,391.6 821.0,391.7 821.5,391.6 822.0,391.6 822.5,391.5 823.0,391.5 823.5,391.6 824.0,391.7 824.5,391.7 825.0,391.6 825.5,391.5 826.0,391.6 826.5,391.7 827.0,391.5 827.5,391.7 828.0,391.5 828.5,391.6 829.0,391.5 829.5,391.5 830.0,391.0 830.5,390.1 831.0,389.1 831.5,388.7 832.0,389.1 832.5,389.5 833.0,389.6 833.5,389.9 834.0,390.1 834.5,390.2 835.0,390.4 835.5,390.6 836.0,390.7 836.5,390.9 837.0,390.8 837.5,390.9 838.0,391.1 838.5,391.1 839.0,391.3 839.5,391.3 840.0,391.3 840.5,391.3 841.0,391.3" fill="none" stroke="#555" stroke-width="0.9" stroke-linejoin="round" />
</g>
<g font-family="Liberation Sans">
<rect x="930.70" y="252.27" width="31.00" height="10.53" fill="#a3a3a3"/>
<rect x="976.70" y="238.23" width="31.00" height="24.57" fill="#7b4ea5"/>
<rect x="1023.00" y="228.20" width="31.00" height="34.60" fill="#00bfbf"/>
<rect x="1069.50" y="200.11" width="31.00" height="62.69" fill="#0a6aa6"/>
<rect x="1115.80" y="245.95" width="31.00" height="16.85" fill="#c0242c"/>
<circle cx="933.0" cy="249.0" r="2.2" fill="#000"/>
<circle cx="937.0" cy="246.7" r="2.2" fill="#000"/>
<circle cx="944.2" cy="245.2" r="2.2" fill="#000"/>
<circle cx="951.7" cy="246.3" r="2.2" fill="#000"/>
<circle cx="959.4" cy="249.0" r="2.2" fill="#000"/>
<circle cx="936.0" cy="253.2" r="2.2" fill="#000"/>
<circle cx="940.6" cy="256.3" r="2.2" fill="#000"/>
<circle cx="948.2" cy="258.6" r="2.2" fill="#000"/>
<circle cx="955.7" cy="257.8" r="2.2" fill="#000"/>
<circle cx="959.7" cy="256.3" r="2.2" fill="#000"/>
<circle cx="933.5" cy="256.3" r="2.2" fill="#000"/>
<circle cx="944.6" cy="250.0" r="2.2" fill="#000"/>
<circle cx="952.5" cy="252.3" r="2.2" fill="#000"/>
<circle cx="948.0" cy="253.0" r="2.2" fill="#000"/>
<circle cx="940.6" cy="252.3" r="2.2" fill="#000"/>
<circle cx="955.0" cy="251.0" r="2.2" fill="#000"/>
<circle cx="983.1" cy="224.8" r="2.2" fill="#000"/>
<circle cx="992.5" cy="228.8" r="2.2" fill="#000"/>
<circle cx="983.1" cy="247.5" r="2.2" fill="#000"/>
<circle cx="992.5" cy="244.4" r="2.2" fill="#000"/>
<circle cx="1001.4" cy="247.2" r="2.2" fill="#000"/>
<circle cx="1038.7" cy="201.0" r="2.2" fill="#000"/>
<circle cx="1038.7" cy="205.5" r="2.2" fill="#000"/>
<circle cx="1038.7" cy="221.8" r="2.2" fill="#000"/>
<circle cx="1038.7" cy="239.6" r="2.2" fill="#000"/>
<circle cx="1038.7" cy="248.3" r="2.2" fill="#000"/>
<circle cx="1038.7" cy="253.9" r="2.2" fill="#000"/>
<circle cx="1085.0" cy="124.6" r="2.2" fill="#000"/>
<circle cx="1085.0" cy="156.3" r="2.2" fill="#000"/>
<circle cx="1085.0" cy="163.5" r="2.2" fill="#000"/>
<circle cx="1085.0" cy="199.6" r="2.2" fill="#000"/>
<circle cx="1085.0" cy="220.9" r="2.2" fill="#000"/>
<circle cx="1080.5" cy="227.4" r="2.2" fill="#000"/>
<circle cx="1089.7" cy="227.4" r="2.2" fill="#000"/>
<circle cx="1085.0" cy="233.7" r="2.2" fill="#000"/>
<circle cx="1085.0" cy="247.8" r="2.2" fill="#000"/>
<circle cx="1126.7" cy="242.3" r="2.2" fill="#000"/>
<circle cx="1135.7" cy="245.1" r="2.2" fill="#000"/>
<circle cx="1131.3" cy="250.4" r="2.2" fill="#000"/>
<line x1="946.20" y1="251.00" x2="946.20" y2="254.50" stroke="#000" stroke-width="1.5" />
<line x1="937.90" y1="251.00" x2="954.50" y2="251.00" stroke="#000" stroke-width="1.5" />
<line x1="937.90" y1="254.50" x2="954.50" y2="254.50" stroke="#000" stroke-width="1.5" />
<line x1="992.20" y1="233.70" x2="992.20" y2="243.20" stroke="#000" stroke-width="1.5" />
<line x1="983.90" y1="233.70" x2="1000.50" y2="233.70" stroke="#000" stroke-width="1.5" />
<line x1="983.90" y1="243.20" x2="1000.50" y2="243.20" stroke="#000" stroke-width="1.5" />
<line x1="1038.50" y1="219.00" x2="1038.50" y2="237.20" stroke="#000" stroke-width="1.5" />
<line x1="1030.20" y1="219.00" x2="1046.80" y2="219.00" stroke="#000" stroke-width="1.5" />
<line x1="1030.20" y1="237.20" x2="1046.80" y2="237.20" stroke="#000" stroke-width="1.5" />
<line x1="1085.00" y1="186.00" x2="1085.00" y2="213.90" stroke="#000" stroke-width="1.5" />
<line x1="1076.70" y1="186.00" x2="1093.30" y2="186.00" stroke="#000" stroke-width="1.5" />
<line x1="1076.70" y1="213.90" x2="1093.30" y2="213.90" stroke="#000" stroke-width="1.5" />
<line x1="1131.30" y1="243.60" x2="1131.30" y2="248.30" stroke="#000" stroke-width="1.5" />
<line x1="1123.00" y1="243.60" x2="1139.60" y2="243.60" stroke="#000" stroke-width="1.5" />
<line x1="1123.00" y1="248.30" x2="1139.60" y2="248.30" stroke="#000" stroke-width="1.5" />
<line x1="915.60" y1="112.00" x2="915.60" y2="263.80" stroke="#000" stroke-width="1.9" />
<line x1="908.40" y1="262.80" x2="1160.00" y2="262.80" stroke="#000" stroke-width="1.9" />
<line x1="908.40" y1="262.80" x2="915.60" y2="262.80" stroke="#000" stroke-width="1.6" />
<text x="905.9" y="262.8" font-size="14.5" text-anchor="end" fill="#000" font-weight="normal" dominant-baseline="central" >0</text>
<line x1="908.40" y1="212.65" x2="915.60" y2="212.65" stroke="#000" stroke-width="1.6" />
<text x="905.9" y="212.7" font-size="14.5" text-anchor="end" fill="#000" font-weight="normal" dominant-baseline="central" >5</text>
<line x1="908.40" y1="162.50" x2="915.60" y2="162.50" stroke="#000" stroke-width="1.6" />
<text x="905.9" y="162.5" font-size="14.5" text-anchor="end" fill="#000" font-weight="normal" dominant-baseline="central" >10</text>
<line x1="908.40" y1="112.35" x2="915.60" y2="112.35" stroke="#000" stroke-width="1.6" />
<text x="905.9" y="112.4" font-size="14.5" text-anchor="end" fill="#000" font-weight="normal" dominant-baseline="central" >15</text>
<line x1="946.20" y1="262.80" x2="946.20" y2="270.00" stroke="#000" stroke-width="1.6" />
<line x1="992.20" y1="262.80" x2="992.20" y2="270.00" stroke="#000" stroke-width="1.6" />
<line x1="1038.50" y1="262.80" x2="1038.50" y2="270.00" stroke="#000" stroke-width="1.6" />
<line x1="1085.00" y1="262.80" x2="1085.00" y2="270.00" stroke="#000" stroke-width="1.6" />
<line x1="1131.30" y1="262.80" x2="1131.30" y2="270.00" stroke="#000" stroke-width="1.6" />
</g>
<g font-family="Liberation Sans">
<path d="M946.2,63.0 V36.5 H1085.0 V80.0" fill="none" stroke="#000" stroke-width="1.6"/>
<path d="M946.2,80.0 V71.5 H1038.7 V192.8" fill="none" stroke="#000" stroke-width="1.6"/>
<path d="M946.2,236.4 V106.7 H992.5 V216.6" fill="none" stroke="#000" stroke-width="1.6"/>
<path d="M1085.0,115.9 V106.7 H1131.3 V233.2" fill="none" stroke="#000" stroke-width="1.6"/>
<text x="1015.0" y="24.0" font-size="14" text-anchor="middle" fill="#000" font-weight="normal" dominant-baseline="central" >&lt;0.001</text>
<text x="992.8" y="58.7" font-size="14" text-anchor="middle" fill="#000" font-weight="normal" dominant-baseline="central" >0.039</text>
<text x="969.0" y="93.7" font-size="14" text-anchor="middle" fill="#000" font-weight="normal" dominant-baseline="central" >0.265</text>
<text x="1108.0" y="93.7" font-size="14" text-anchor="middle" fill="#000" font-weight="normal" dominant-baseline="central" >0.007</text>
<text transform="translate(878.0,186.0) rotate(-90)" font-size="14.1" text-anchor="middle" dominant-baseline="central" fill="#000">Developed Tension Normalized</text>
<text transform="translate(948.2,286.0) rotate(-45)" font-size="14.3" text-anchor="end" fill="#000">Control</text>
<text transform="translate(994.2,286.0) rotate(-45)" font-size="14.3" text-anchor="end" fill="#000">Semaglutide (30 nM)</text>
<text transform="translate(1040.5,286.0) rotate(-45)" font-size="14.3" text-anchor="end" fill="#000">Semaglutide (100 nM)</text>
<text transform="translate(1087.0,286.0) rotate(-45)" font-size="14.3" text-anchor="end" fill="#000">Semaglutide (300 nM)</text>
<text transform="translate(1128.3,284.0) rotate(-45)" font-size="14.3" text-anchor="end" fill="#000">Exendin 9-39 (1 µM)</text>
<text transform="translate(1141.3,295.5) rotate(-45)" font-size="14.3" text-anchor="end" fill="#000">+ Semaglutide (300 nM)</text>
</g>
<g font-family="Liberation Sans">
<rect x="1253.65" y="226.85" width="37.70" height="1.75" fill="#a3a3a3"/>
<rect x="1310.75" y="208.04" width="37.70" height="20.56" fill="#fdc300"/>
<rect x="1368.15" y="187.28" width="37.70" height="41.32" fill="#f28c1e"/>
<circle cx="1255.5" cy="226.6" r="2.2" fill="#000"/>
<circle cx="1258.5" cy="225.8" r="2.2" fill="#000"/>
<circle cx="1262.0" cy="226.6" r="2.2" fill="#000"/>
<circle cx="1265.5" cy="225.8" r="2.2" fill="#000"/>
<circle cx="1269.0" cy="226.6" r="2.2" fill="#000"/>
<circle cx="1272.5" cy="225.8" r="2.2" fill="#000"/>
<circle cx="1276.0" cy="226.6" r="2.2" fill="#000"/>
<circle cx="1279.5" cy="225.8" r="2.2" fill="#000"/>
<circle cx="1283.0" cy="226.6" r="2.2" fill="#000"/>
<circle cx="1286.5" cy="225.8" r="2.2" fill="#000"/>
<circle cx="1289.0" cy="226.6" r="2.2" fill="#000"/>
<circle cx="1277.6" cy="221.4" r="2.2" fill="#000"/>
<circle cx="1324.8" cy="169.7" r="2.2" fill="#000"/>
<circle cx="1334.4" cy="169.7" r="2.2" fill="#000"/>
<circle cx="1329.6" cy="197.6" r="2.2" fill="#000"/>
<circle cx="1315.3" cy="213.5" r="2.2" fill="#000"/>
<circle cx="1315.3" cy="217.8" r="2.2" fill="#000"/>
<circle cx="1315.3" cy="223.0" r="2.2" fill="#000"/>
<circle cx="1324.8" cy="221.4" r="2.2" fill="#000"/>
<circle cx="1334.4" cy="216.2" r="2.2" fill="#000"/>
<circle cx="1334.4" cy="223.0" r="2.2" fill="#000"/>
<circle cx="1343.6" cy="211.0" r="2.2" fill="#000"/>
<circle cx="1343.6" cy="221.7" r="2.2" fill="#000"/>
<circle cx="1387.0" cy="90.4" r="2.2" fill="#000"/>
<circle cx="1387.0" cy="134.5" r="2.2" fill="#000"/>
<circle cx="1387.0" cy="148.8" r="2.2" fill="#000"/>
<circle cx="1387.0" cy="185.3" r="2.2" fill="#000"/>
<circle cx="1387.0" cy="204.0" r="2.2" fill="#000"/>
<circle cx="1377.5" cy="214.6" r="2.2" fill="#000"/>
<circle cx="1387.0" cy="212.0" r="2.2" fill="#000"/>
<circle cx="1396.2" cy="211.4" r="2.2" fill="#000"/>
<circle cx="1396.2" cy="216.2" r="2.2" fill="#000"/>
<circle cx="1382.2" cy="223.0" r="2.2" fill="#000"/>
<circle cx="1391.4" cy="221.4" r="2.2" fill="#000"/>
<line x1="1329.60" y1="201.60" x2="1329.60" y2="213.50" stroke="#000" stroke-width="1.5" />
<line x1="1319.40" y1="201.60" x2="1339.80" y2="201.60" stroke="#000" stroke-width="1.5" />
<line x1="1319.40" y1="213.50" x2="1339.80" y2="213.50" stroke="#000" stroke-width="1.5" />
<line x1="1387.00" y1="174.20" x2="1387.00" y2="200.70" stroke="#000" stroke-width="1.5" />
<line x1="1376.80" y1="174.20" x2="1397.20" y2="174.20" stroke="#000" stroke-width="1.5" />
<line x1="1376.80" y1="200.70" x2="1397.20" y2="200.70" stroke="#000" stroke-width="1.5" />
<line x1="1234.30" y1="73.80" x2="1234.30" y2="229.60" stroke="#000" stroke-width="1.9" />
<line x1="1227.50" y1="228.60" x2="1420.00" y2="228.60" stroke="#000" stroke-width="1.9" />
<line x1="1227.50" y1="228.60" x2="1234.30" y2="228.60" stroke="#000" stroke-width="1.6" />
<text x="1225.0" y="228.6" font-size="15" text-anchor="end" fill="#000" font-weight="normal" dominant-baseline="central" >0</text>
<line x1="1227.50" y1="189.80" x2="1234.30" y2="189.80" stroke="#000" stroke-width="1.6" />
<text x="1225.0" y="189.8" font-size="15" text-anchor="end" fill="#000" font-weight="normal" dominant-baseline="central" >20</text>
<line x1="1227.50" y1="151.00" x2="1234.30" y2="151.00" stroke="#000" stroke-width="1.6" />
<text x="1225.0" y="151.0" font-size="15" text-anchor="end" fill="#000" font-weight="normal" dominant-baseline="central" >40</text>
<line x1="1227.50" y1="112.20" x2="1234.30" y2="112.20" stroke="#000" stroke-width="1.6" />
<text x="1225.0" y="112.2" font-size="15" text-anchor="end" fill="#000" font-weight="normal" dominant-baseline="central" >60</text>
<line x1="1227.50" y1="73.40" x2="1234.30" y2="73.40" stroke="#000" stroke-width="1.6" />
<text x="1225.0" y="73.4" font-size="15" text-anchor="end" fill="#000" font-weight="normal" dominant-baseline="central" >80</text>
<line x1="1272.50" y1="228.60" x2="1272.50" y2="235.40" stroke="#000" stroke-width="1.6" />
<line x1="1329.60" y1="228.60" x2="1329.60" y2="235.40" stroke="#000" stroke-width="1.6" />
<line x1="1387.00" y1="228.60" x2="1387.00" y2="235.40" stroke="#000" stroke-width="1.6" />
</g>
<g font-family="Liberation Sans">
<path d="M1272.5,213.0 V72.4 H1326.4 V161.5" fill="none" stroke="#000" stroke-width="1.6"/>
<path d="M1332.4,161.5 V72.4 H1387.0 V81.4" fill="none" stroke="#000" stroke-width="1.6"/>
<text x="1298.6" y="59.5" font-size="14" text-anchor="middle" fill="#000" font-weight="normal" dominant-baseline="central" >0.048</text>
<text x="1359.7" y="59.5" font-size="14" text-anchor="middle" fill="#000" font-weight="normal" dominant-baseline="central" >0.048</text>
<text transform="translate(1195.0,150.0) rotate(-90)" font-size="14.3" text-anchor="middle" dominant-baseline="central" fill="#000">Developed Tension Normalized</text>
<text transform="translate(1275.5,247.0) rotate(-45)" font-size="15" text-anchor="end" fill="#000">Control</text>
<text transform="translate(1332.6,249.0) rotate(-45)" font-size="15" text-anchor="end" fill="#000">ISO</text>
<text transform="translate(1391.0,251.0) rotate(-45)" font-size="15" text-anchor="end" fill="#000">ISO + Semaglutide (300 nM)</text>
</g>
<g font-family="Liberation Sans">
<defs>
<filter id="nz" x="0" y="0" width="100%" height="100%" color-interpolation-filters="sRGB">
<feTurbulence type="fractalNoise" baseFrequency="0.7" numOctaves="2" seed="4" result="t"/>
<feColorMatrix in="t" type="matrix" values="1 0 0 0 0  1 0 0 0 0  1 0 0 0 0  0 0 0 0 1" result="g"/>
<feComponentTransfer in="g" result="c"><feFuncR type="linear" slope="1.7" intercept="-0.35"/><feFuncG type="linear" slope="1.7" intercept="-0.35"/><feFuncB type="linear" slope="1.7" intercept="-0.35"/></feComponentTransfer>
<feComposite in="SourceGraphic" in2="c" operator="arithmetic" k1="1.2" k2="0.4" k3="0" k4="0"/>
</filter>
<linearGradient id="sg1" x1="0" y1="0" x2="0" y2="1"><stop offset="0" stop-color="rgb(16,58,93)"/><stop offset="0.55" stop-color="rgb(12,47,78)"/><stop offset="0.8" stop-color="rgb(6,26,47)"/><stop offset="1" stop-color="rgb(2,11,22)"/></linearGradient>
<linearGradient id="sg2" x1="0" y1="0" x2="0" y2="1"><stop offset="0" stop-color="rgb(12,48,80)"/><stop offset="1" stop-color="rgb(11,43,74)"/></linearGradient>
<linearGradient id="sg3" x1="0" y1="0" x2="0" y2="1"><stop offset="0" stop-color="rgb(15,61,100)"/><stop offset="0.3" stop-color="rgb(13,52,88)"/><stop offset="0.5" stop-color="rgb(8,36,63)"/><stop offset="1" stop-color="rgb(6,27,49)"/></linearGradient>
<linearGradient id="sg4" x1="0" y1="0" x2="0" y2="1"><stop offset="0" stop-color="rgb(7,30,54)"/><stop offset="0.5" stop-color="rgb(9,38,67)"/><stop offset="1" stop-color="rgb(7,29,52)"/></linearGradient>
<linearGradient id="sg5" x1="0" y1="0" x2="0" y2="1"><stop offset="0" stop-color="rgb(3,13,26)"/><stop offset="0.1" stop-color="rgb(9,38,65)"/><stop offset="0.5" stop-color="rgb(14,56,91)"/><stop offset="1" stop-color="rgb(12,50,84)"/></linearGradient>
<radialGradient id="spark"><stop offset="0" stop-color="#e0ff38"/><stop offset="0.35" stop-color="#70e830"/><stop offset="0.65" stop-color="#28c040"/><stop offset="0.85" stop-color="#1a8a70" stop-opacity="0.6"/><stop offset="1" stop-color="#125a90" stop-opacity="0"/></radialGradient>
<radialGradient id="tail" cx="0.3" cy="0.5" r="0.7"><stop offset="0" stop-color="#2a88c0" stop-opacity="0.65"/><stop offset="1" stop-color="#1a6090" stop-opacity="0"/></radialGradient>
<clipPath id="eclip"><rect x="641.2" y="449" width="377.8" height="247"/></clipPath>
</defs>
<rect x="641.2" y="449" width="377.8" height="47.5" fill="url(#sg1)" filter="url(#nz)"/>
<rect x="641.2" y="498.9" width="377.8" height="47.0" fill="url(#sg2)" filter="url(#nz)"/>
<rect x="641.2" y="548.6" width="377.8" height="47.2" fill="url(#sg3)" filter="url(#nz)"/>
<rect x="641.2" y="598.5" width="377.8" height="47.3" fill="url(#sg4)" filter="url(#nz)"/>
<rect x="641.2" y="648.3" width="377.8" height="47.4" fill="url(#sg5)" filter="url(#nz)"/>
<g clip-path="url(#eclip)">
<rect x="641.2" y="649.0" width="377.8" height="1" fill="#2a6aa8" opacity="0.17"/>
<rect x="641.2" y="650.0" width="377.8" height="1" fill="#02101f" opacity="0.12"/>
<rect x="641.2" y="651.0" width="377.8" height="1" fill="#2a6aa8" opacity="0.17"/>
<rect x="641.2" y="652.0" width="377.8" height="1" fill="#02101f" opacity="0.08"/>
<rect x="641.2" y="653.0" width="377.8" height="1" fill="#2a6aa8" opacity="0.12"/>
<rect x="641.2" y="654.0" width="377.8" height="1" fill="#2a6aa8" opacity="0.14"/>
<rect x="641.2" y="655.0" width="377.8" height="1" fill="#2a6aa8" opacity="0.17"/>
<rect x="641.2" y="656.0" width="377.8" height="1" fill="#02101f" opacity="0.18"/>
<rect x="641.2" y="657.0" width="377.8" height="1" fill="#02101f" opacity="0.08"/>
<rect x="641.2" y="658.0" width="377.8" height="1" fill="#2a6aa8" opacity="0.06"/>
<rect x="641.2" y="659.0" width="377.8" height="1" fill="#02101f" opacity="0.02"/>
<rect x="641.2" y="660.0" width="377.8" height="1" fill="#02101f" opacity="0.17"/>
<rect x="641.2" y="661.0" width="377.8" height="1" fill="#02101f" opacity="0.09"/>
<rect x="641.2" y="662.0" width="377.8" height="1" fill="#2a6aa8" opacity="0.02"/>
<rect x="641.2" y="663.0" width="377.8" height="1" fill="#02101f" opacity="0.14"/>
<rect x="641.2" y="664.0" width="377.8" height="1" fill="#02101f" opacity="0.14"/>
<rect x="641.2" y="665.0" width="377.8" height="1" fill="#2a6aa8" opacity="0.17"/>
<rect x="641.2" y="666.0" width="377.8" height="1" fill="#02101f" opacity="0.21"/>
<rect x="641.2" y="667.0" width="377.8" height="1" fill="#2a6aa8" opacity="0.08"/>
<rect x="641.2" y="668.0" width="377.8" height="1" fill="#2a6aa8" opacity="0.18"/>
<rect x="641.2" y="669.0" width="377.8" height="1" fill="#02101f" opacity="0.04"/>
<rect x="641.2" y="670.0" width="377.8" height="1" fill="#02101f" opacity="0.12"/>
<rect x="641.2" y="671.0" width="377.8" height="1" fill="#02101f" opacity="0.15"/>
<rect x="641.2" y="672.0" width="377.8" height="1" fill="#2a6aa8" opacity="0.03"/>
<rect x="641.2" y="673.0" width="377.8" height="1" fill="#2a6aa8" opacity="0.01"/>
<rect x="641.2" y="674.0" width="377.8" height="1" fill="#02101f" opacity="0.11"/>
<rect x="641.2" y="675.0" width="377.8" height="1" fill="#02101f" opacity="0.15"/>
<rect x="641.2" y="676.0" width="377.8" height="1" fill="#02101f" opacity="0.09"/>
<rect x="641.2" y="677.0" width="377.8" height="1" fill="#02101f" opacity="0.06"/>
<rect x="641.2" y="678.0" width="377.8" height="1" fill="#02101f" opacity="0.17"/>
<rect x="641.2" y="679.0" width="377.8" height="1" fill="#02101f" opacity="0.03"/>
<rect x="641.2" y="680.0" width="377.8" height="1" fill="#02101f" opacity="0.17"/>
<rect x="641.2" y="681.0" width="377.8" height="1" fill="#02101f" opacity="0.20"/>
<rect x="641.2" y="682.0" width="377.8" height="1" fill="#02101f" opacity="0.16"/>
<rect x="641.2" y="683.0" width="377.8" height="1" fill="#02101f" opacity="0.14"/>
<rect x="641.2" y="684.0" width="377.8" height="1" fill="#02101f" opacity="0.03"/>
<rect x="641.2" y="685.0" width="377.8" height="1" fill="#02101f" opacity="0.15"/>
<rect x="641.2" y="686.0" width="377.8" height="1" fill="#2a6aa8" opacity="0.06"/>
<rect x="641.2" y="687.0" width="377.8" height="1" fill="#02101f" opacity="0.13"/>
<rect x="641.2" y="688.0" width="377.8" height="1" fill="#2a6aa8" opacity="0.06"/>
<rect x="641.2" y="689.0" width="377.8" height="1" fill="#2a6aa8" opacity="0.05"/>
<rect x="641.2" y="690.0" width="377.8" height="1" fill="#02101f" opacity="0.15"/>
<rect x="641.2" y="691.0" width="377.8" height="1" fill="#2a6aa8" opacity="0.18"/>
<rect x="641.2" y="692.0" width="377.8" height="1" fill="#2a6aa8" opacity="0.15"/>
<rect x="641.2" y="693.0" width="377.8" height="1" fill="#2a6aa8" opacity="0.18"/>
<rect x="641.2" y="694.0" width="377.8" height="1" fill="#02101f" opacity="0.00"/>
<ellipse cx="688.5" cy="478.0" rx="10.9" ry="4.4" fill="url(#tail)" opacity="0.7"/>
<ellipse cx="681.3" cy="478.0" rx="3.0" ry="2.6" fill="url(#spark)"/>
<ellipse cx="665.9" cy="557.0" rx="13.9" ry="5.6" fill="url(#tail)" opacity="0.7"/>
<ellipse cx="656.6" cy="557.0" rx="3.8" ry="3.3" fill="url(#spark)"/>
<ellipse cx="720.2" cy="557.0" rx="13.9" ry="5.6" fill="url(#tail)" opacity="0.7"/>
<ellipse cx="710.9" cy="557.0" rx="3.8" ry="3.3" fill="url(#spark)"/>
<ellipse cx="760.2" cy="564.7" rx="18.5" ry="7.5" fill="url(#tail)" opacity="0.7"/>
<ellipse cx="747.6" cy="564.7" rx="5.1" ry="4.4" fill="url(#spark)"/>
<ellipse cx="948.8" cy="602.8" rx="9.7" ry="3.9" fill="url(#tail)" opacity="0.7"/>
<ellipse cx="942.5" cy="602.8" rx="2.6" ry="2.3" fill="url(#spark)"/>
<ellipse cx="795.2" cy="681.6" rx="14.3" ry="5.8" fill="url(#tail)" opacity="0.7"/>
<ellipse cx="785.6" cy="681.6" rx="3.9" ry="3.4" fill="url(#spark)"/>
<ellipse cx="921.8" cy="681.6" rx="14.3" ry="5.8" fill="url(#tail)" opacity="0.7"/>
<ellipse cx="912.2" cy="681.6" rx="3.9" ry="3.4" fill="url(#spark)"/>
<ellipse cx="1010.5" cy="681.6" rx="14.3" ry="5.8" fill="url(#tail)" opacity="0.7"/>
<ellipse cx="1000.9" cy="681.6" rx="3.9" ry="3.4" fill="url(#spark)"/>
<ellipse cx="728" cy="513" rx="10" ry="7" fill="url(#tail)" opacity="0.7"/>
</g>
<line x1="935.80" y1="444.60" x2="1019.00" y2="444.60" stroke="#000" stroke-width="1.8" />
<text x="973.0" y="436.0" font-size="11.5" text-anchor="middle" fill="#000" font-weight="bold" dominant-baseline="central" >0,5 s</text>
<line x1="1024.00" y1="449.20" x2="1024.00" y2="462.30" stroke="#000" stroke-width="1.8" />
<text transform="translate(1035,460.5) rotate(90)" font-size="10.8" font-weight="bold" text-anchor="middle" dominant-baseline="central">10 µm</text>
<text x="630.5" y="473.5" font-size="13" text-anchor="end" fill="#a0a0a0" font-weight="bold" dominant-baseline="central" >Control</text>
<text x="627.0" y="525.0" font-size="13" text-anchor="end" fill="#1f6ea5" font-weight="bold" dominant-baseline="central" >Semaglutide (300 nM)</text>
<text x="628.5" y="572.7" font-size="13" text-anchor="end" fill="#f7bb00" font-weight="bold" dominant-baseline="central" >ISO</text>
<text x="568.0" y="615.5" font-size="13" text-anchor="middle" fill="#f28c28" font-weight="bold" dominant-baseline="central" >ISO + Semaglutide</text>
<text x="568.0" y="632.0" font-size="13" text-anchor="middle" fill="#f28c28" font-weight="bold" dominant-baseline="central" >(300 nM)</text>
<text x="545.0" y="664.6" font-size="13" text-anchor="middle" fill="#b5202e" font-weight="bold" dominant-baseline="central" >ISO + Semaglutide</text>
<text x="545.0" y="681.0" font-size="13" text-anchor="middle" fill="#b5202e" font-weight="bold" dominant-baseline="central" >(300 nM) + Exendin 9-39</text>
</g>
<g font-family="Liberation Sans">
<rect x="1157.30" y="576.99" width="39.00" height="14.21" fill="#a3a3a3"/>
<rect x="1216.40" y="575.30" width="39.00" height="15.90" fill="#0a5a8e"/>
<rect x="1275.80" y="532.46" width="39.00" height="58.74" fill="#fdc300"/>
<rect x="1334.70" y="563.81" width="39.00" height="27.39" fill="#f28c1e"/>
<rect x="1393.80" y="536.57" width="39.00" height="54.63" fill="#ae1a24"/>
<circle cx="1167.4" cy="569.7" r="2.2" fill="#000"/>
<circle cx="1176.8" cy="572.7" r="2.2" fill="#000"/>
<circle cx="1186.0" cy="572.7" r="2.2" fill="#000"/>
<circle cx="1171.8" cy="576.7" r="2.2" fill="#000"/>
<circle cx="1181.7" cy="577.2" r="2.2" fill="#000"/>
<circle cx="1167.4" cy="582.2" r="2.2" fill="#000"/>
<circle cx="1176.8" cy="582.2" r="2.2" fill="#000"/>
<circle cx="1186.0" cy="582.2" r="2.2" fill="#000"/>
<circle cx="1235.9" cy="567.7" r="2.2" fill="#000"/>
<circle cx="1226.7" cy="572.7" r="2.2" fill="#000"/>
<circle cx="1245.2" cy="575.7" r="2.2" fill="#000"/>
<circle cx="1235.9" cy="576.7" r="2.2" fill="#000"/>
<circle cx="1235.9" cy="582.2" r="2.2" fill="#000"/>
<circle cx="1295.3" cy="446.8" r="2.2" fill="#000"/>
<circle cx="1290.8" cy="536.6" r="2.2" fill="#000"/>
<circle cx="1300.1" cy="538.4" r="2.2" fill="#000"/>
<circle cx="1295.3" cy="550.9" r="2.2" fill="#000"/>
<circle cx="1295.3" cy="555.4" r="2.2" fill="#000"/>
<circle cx="1295.3" cy="565.7" r="2.2" fill="#000"/>
<circle cx="1354.2" cy="553.8" r="2.2" fill="#000"/>
<circle cx="1354.2" cy="559.8" r="2.2" fill="#000"/>
<circle cx="1345.3" cy="570.1" r="2.2" fill="#000"/>
<circle cx="1354.2" cy="567.1" r="2.2" fill="#000"/>
<circle cx="1363.6" cy="567.7" r="2.2" fill="#000"/>
<circle cx="1413.3" cy="512.8" r="2.2" fill="#000"/>
<circle cx="1413.3" cy="521.1" r="2.2" fill="#000"/>
<circle cx="1408.8" cy="541.4" r="2.2" fill="#000"/>
<circle cx="1418.3" cy="540.0" r="2.2" fill="#000"/>
<circle cx="1408.8" cy="551.3" r="2.2" fill="#000"/>
<circle cx="1418.3" cy="550.5" r="2.2" fill="#000"/>
<line x1="1176.80" y1="574.70" x2="1176.80" y2="578.60" stroke="#000" stroke-width="1.5" />
<line x1="1166.80" y1="574.70" x2="1186.80" y2="574.70" stroke="#000" stroke-width="1.5" />
<line x1="1166.80" y1="578.60" x2="1186.80" y2="578.60" stroke="#000" stroke-width="1.5" />
<line x1="1235.90" y1="572.70" x2="1235.90" y2="577.60" stroke="#000" stroke-width="1.5" />
<line x1="1225.90" y1="572.70" x2="1245.90" y2="572.70" stroke="#000" stroke-width="1.5" />
<line x1="1225.90" y1="577.60" x2="1245.90" y2="577.60" stroke="#000" stroke-width="1.5" />
<line x1="1295.30" y1="514.80" x2="1295.30" y2="549.90" stroke="#000" stroke-width="1.5" />
<line x1="1285.30" y1="514.80" x2="1305.30" y2="514.80" stroke="#000" stroke-width="1.5" />
<line x1="1285.30" y1="549.90" x2="1305.30" y2="549.90" stroke="#000" stroke-width="1.5" />
<line x1="1354.20" y1="560.40" x2="1354.20" y2="565.70" stroke="#000" stroke-width="1.5" />
<line x1="1344.20" y1="560.40" x2="1364.20" y2="560.40" stroke="#000" stroke-width="1.5" />
<line x1="1344.20" y1="565.70" x2="1364.20" y2="565.70" stroke="#000" stroke-width="1.5" />
<line x1="1413.30" y1="529.70" x2="1413.30" y2="543.00" stroke="#000" stroke-width="1.5" />
<line x1="1403.30" y1="529.70" x2="1423.30" y2="529.70" stroke="#000" stroke-width="1.5" />
<line x1="1403.30" y1="543.00" x2="1423.30" y2="543.00" stroke="#000" stroke-width="1.5" />
<line x1="1137.70" y1="437.30" x2="1137.70" y2="592.20" stroke="#000" stroke-width="1.9" />
<line x1="1130.20" y1="591.20" x2="1453.60" y2="591.20" stroke="#000" stroke-width="1.9" />
<line x1="1130.20" y1="591.20" x2="1137.70" y2="591.20" stroke="#000" stroke-width="1.6" />
<text x="1127.7" y="591.2" font-size="14.5" text-anchor="end" fill="#000" font-weight="normal" dominant-baseline="central" >0</text>
<line x1="1130.20" y1="539.90" x2="1137.70" y2="539.90" stroke="#000" stroke-width="1.6" />
<text x="1127.7" y="539.9" font-size="14.5" text-anchor="end" fill="#000" font-weight="normal" dominant-baseline="central" >2</text>
<line x1="1130.20" y1="488.60" x2="1137.70" y2="488.60" stroke="#000" stroke-width="1.6" />
<text x="1127.7" y="488.6" font-size="14.5" text-anchor="end" fill="#000" font-weight="normal" dominant-baseline="central" >4</text>
<line x1="1130.20" y1="437.30" x2="1137.70" y2="437.30" stroke="#000" stroke-width="1.6" />
<text x="1127.7" y="437.3" font-size="14.5" text-anchor="end" fill="#000" font-weight="normal" dominant-baseline="central" >6</text>
<line x1="1176.80" y1="591.20" x2="1176.80" y2="598.70" stroke="#000" stroke-width="1.6" />
<line x1="1235.90" y1="591.20" x2="1235.90" y2="598.70" stroke="#000" stroke-width="1.6" />
<line x1="1295.30" y1="591.20" x2="1295.30" y2="598.70" stroke="#000" stroke-width="1.6" />
<line x1="1354.20" y1="591.20" x2="1354.20" y2="598.70" stroke="#000" stroke-width="1.6" />
<line x1="1413.30" y1="591.20" x2="1413.30" y2="598.70" stroke="#000" stroke-width="1.6" />
</g>
<g font-family="Liberation Sans">
<path d="M1176.8,561.2 V428.5 H1292.4 V438.2" fill="none" stroke="#000" stroke-width="1.6"/>
<path d="M1298.7,438.2 V428.5 H1351.7 V544.9" fill="none" stroke="#000" stroke-width="1.6"/>
<path d="M1357.2,544.9 V428.5 H1413.7 V504.3" fill="none" stroke="#000" stroke-width="1.6"/>
<text x="1234.3" y="415.8" font-size="14" text-anchor="middle" fill="#000" font-weight="normal" dominant-baseline="central" >0.002</text>
<text x="1325.0" y="415.8" font-size="14" text-anchor="middle" fill="#000" font-weight="normal" dominant-baseline="central" >0.047</text>
<text x="1385.0" y="415.8" font-size="14" text-anchor="middle" fill="#000" font-weight="normal" dominant-baseline="central" >0.060</text>
<text transform="translate(1105.8,514.5) rotate(-90)" font-size="15" text-anchor="middle" dominant-baseline="central">CaSpF (1/100 µm<tspan font-size="10" dy="-5.5">-1</tspan><tspan dy="5.5"> s</tspan><tspan font-size="10" dy="-5.5">-1</tspan><tspan dy="5.5">)</tspan></text>
<text transform="translate(1180.3,614.0) rotate(-45)" font-size="15" text-anchor="end" fill="#000">Control</text>
<text transform="translate(1239.4,614.0) rotate(-45)" font-size="15" text-anchor="end" fill="#000">Semaglutide (300 nM)</text>
<text transform="translate(1298.8,614.0) rotate(-45)" font-size="15" text-anchor="end" fill="#000">ISO</text>
<text transform="translate(1357.7,614.0) rotate(-45)" font-size="15" text-anchor="end" fill="#000">ISO + Semaglutide (300 nM)</text>
<text transform="translate(1408.3,618.0) rotate(-45)" font-size="15" text-anchor="end" fill="#000">ISO + Semaglutide (300 nM)</text>
<text transform="translate(1419.3,630.0) rotate(-45)" font-size="15" text-anchor="end" fill="#000">+ Exendin 9-39</text>
</g>
<g font-family="Liberation Sans">
<text x="157.0" y="777.3" font-size="15.5" text-anchor="middle" fill="#000" font-weight="normal" dominant-baseline="central" >Rapid Cooling Contraction</text>
<polyline points="100.7,930.8 101.0,930.1 101.3,929.1 101.7,928.7 102.0,928.0 102.3,927.4 102.6,926.0 103.0,925.9 103.3,924.4 103.6,923.8 103.9,923.4 104.2,922.3 104.6,921.6 104.9,921.0 105.2,920.0 105.5,919.7 105.9,918.5 106.2,918.3 106.5,917.5 106.8,916.5 107.2,915.3 107.5,915.2 107.8,913.8 108.2,913.5 108.6,912.7 109.1,911.7 109.5,911.5 109.9,910.9 110.3,910.0 110.7,909.1 111.2,908.5 111.6,907.9 112.0,906.9 112.3,906.7 112.6,906.0 112.8,905.1 113.1,904.5 113.4,903.2 113.7,903.0 114.0,901.4 114.2,901.1 114.5,900.0 114.8,899.5 115.1,899.0 115.4,898.2 115.6,897.3 115.9,896.4 116.2,895.5 116.6,894.9 117.0,894.0 117.4,893.1 117.9,892.8 118.3,891.8 118.7,890.9 119.1,889.9 119.6,889.7 120.1,888.5 120.7,887.9 121.2,887.5 121.7,886.9 122.2,886.4 122.8,885.5 123.3,885.0 124.0,884.4 124.7,883.7 125.4,883.2 126.1,882.1 126.8,881.6 127.5,880.9 128.2,881.2 128.9,880.5 129.7,880.5 130.6,880.3 131.4,880.5 132.2,880.5 133.1,881.0 133.9,881.4 134.2,881.6 134.6,882.2 134.9,883.1 135.3,884.1 135.7,885.4 136.0,886.1 136.3,886.6 136.7,887.0 137.0,887.8 137.3,888.7 137.6,890.0 137.9,890.6 138.2,891.8 138.5,892.6 138.8,893.3 139.4,893.6 140.0,894.5 140.6,894.5 141.2,895.1 141.8,896.1 142.4,896.7 143.0,897.0 143.7,897.5 144.4,897.8 145.1,899.1 145.8,899.4 146.5,900.0 147.2,900.5 148.0,900.5 148.7,901.2 149.4,901.4 150.1,902.2 150.8,902.7 151.5,902.6 152.2,902.9 152.9,903.5 153.6,904.3 154.3,904.5 155.0,904.6 155.7,905.8 156.4,906.2 157.2,906.4 157.9,906.4 158.6,907.6 159.3,907.7 160.0,907.8 160.7,908.4 161.4,909.1 162.1,909.8 162.8,909.9 163.4,910.6 164.1,910.7 164.7,911.3 165.4,912.4 166.0,912.5 166.7,912.8 167.3,913.8 168.0,913.9 168.6,914.5 169.3,915.3 169.9,916.0 170.6,916.6 171.2,917.2 172.0,917.3 172.7,917.3 173.5,918.2 174.2,917.9 175.0,918.6 175.8,918.8 176.5,919.4 177.3,919.8 178.1,919.7 178.8,920.4 179.6,920.7 180.3,920.9 181.1,920.9 181.9,921.9 182.6,921.9 183.4,921.8 184.1,922.3 184.9,923.3 185.6,922.9 186.4,923.4 187.1,924.0 187.9,924.4 188.6,924.6 189.4,925.0 190.1,924.7 190.9,925.0 191.7,926.2 192.4,926.5 193.2,926.2 194.0,926.6 194.8,927.1 195.5,928.1 196.3,927.9 197.1,928.7 197.9,929.3 198.6,929.4 199.4,930.1 200.2,929.9 200.9,930.2 201.7,930.4 202.5,931.5 203.3,931.3 204.0,932.4 204.8,932.6 205.6,932.5 206.4,933.4 207.1,933.2 207.9,933.9 208.7,933.8 209.6,934.6 210.4,934.9 211.3,935.1 212.1,934.5 212.9,935.5 213.8,935.4 214.6,935.9 215.5,935.8 216.3,936.1 217.1,936.1 218.0,936.4 218.8,935.8 219.6,935.8 220.4,936.3 221.2,936.2 222.1,936.3 222.9,936.0 223.7,936.7 224.5,936.2 225.4,936.9 226.2,937.0 227.0,936.8 227.8,936.7 228.6,937.4 229.5,937.1 230.3,937.5 231.1,937.4 231.9,938.4 232.7,938.1 233.6,938.1 234.4,938.1 235.2,938.8 236.0,939.1 236.8,939.2 237.6,938.5 238.4,938.8 239.2,938.8 240.0,939.3 240.8,938.8 241.7,939.2 242.5,939.6 243.3,939.5 244.1,938.9 244.9,939.0 245.7,939.1 246.5,939.6 247.3,939.6 248.1,939.7 248.9,939.8 249.7,939.9 250.5,940.2 251.2,940.4 252.0,940.8 252.8,940.8 253.6,941.0 254.4,940.9" fill="none" stroke="#9e9e9e" stroke-width="2.0" stroke-linejoin="round" />
<polyline points="59.9,936.4 60.7,936.3 61.6,936.1 62.4,935.5 63.2,936.0 64.1,936.2 64.9,935.7 65.7,936.1 66.6,935.5 67.4,936.1 68.2,935.6 69.0,935.8 69.9,935.4 70.7,935.4 71.5,935.4 72.4,935.4 73.2,935.1 74.0,935.4 74.9,935.9 75.7,935.5 76.5,935.8 77.4,935.6 78.2,935.6 79.0,935.8 79.9,935.6 80.7,935.1 81.5,935.1 82.4,935.3 83.2,935.0 84.0,935.2 84.9,935.8 85.7,935.8 86.5,935.3 87.3,935.7 88.2,935.7 89.0,935.8 89.8,935.8 90.7,935.5 91.5,935.2 92.3,935.8 93.2,935.4 94.0,935.7 94.8,935.5 95.7,935.6 96.5,936.0 96.7,934.4 96.9,933.8 97.2,933.0 97.4,932.0 97.6,931.5 98.1,931.7 98.5,932.9 99.0,933.4 99.3,934.5 99.7,934.5 100.0,935.5 100.4,936.4 100.7,937.8 101.2,936.3 101.8,935.8 102.4,935.5 102.9,935.0 103.1,933.5 103.3,933.0 103.5,932.4 103.7,931.7 104.0,930.9 104.2,930.1 104.4,928.9 104.6,928.1 104.8,927.2 105.0,927.0 105.1,925.7 105.2,924.9 105.3,924.8 105.3,923.6 105.4,922.8 105.5,922.0 105.6,921.1 105.7,920.4 105.8,919.2 105.9,918.2 106.0,917.4 106.0,916.5 106.1,916.0 106.2,915.0 106.3,914.1 106.4,913.7 106.5,913.3 106.6,912.2 106.7,911.0 106.8,910.6 106.8,909.3 106.9,908.4 107.0,907.7 107.1,907.0 107.1,906.5 107.2,905.4 107.2,904.9 107.3,903.5 107.3,903.4 107.3,902.1 107.4,901.7 107.4,900.2 107.4,900.1 107.5,898.8 107.5,898.5 107.6,897.7 107.6,896.7 107.6,895.6 107.7,894.5 107.7,893.9 107.8,893.7 107.8,892.2 107.8,891.9 107.9,891.0 107.9,890.3 108.0,889.0 108.0,888.2 108.0,887.3 108.1,887.3 108.1,886.0 108.2,885.4 108.2,884.5 108.2,883.4 108.3,882.4 108.3,881.6 108.3,881.5 108.4,880.1 108.4,880.0 108.5,878.7 108.5,878.2 108.5,876.8 108.6,876.6 108.6,875.3 108.7,874.6 108.7,873.9 108.7,872.8 108.8,872.1 108.8,871.8 108.8,870.5 108.9,869.8 108.9,869.3 109.0,868.0 109.0,867.2 109.0,866.4 109.1,865.7 109.1,864.9 109.2,864.3 109.2,863.4 109.2,862.9 109.3,861.4 109.3,861.1 109.3,860.5 109.4,859.2 109.4,858.2 109.4,857.7 109.5,856.7 109.5,856.2 109.5,855.6 109.6,854.2 109.6,853.5 109.6,853.0 109.7,851.9 109.7,851.2 109.7,850.5 109.8,849.5 109.8,848.6 109.8,848.1 109.9,847.4 109.9,847.0 109.9,845.8 110.0,844.6 110.0,844.0 110.0,843.6 110.1,842.7 110.1,842.1 110.1,841.4 110.1,840.5 110.2,839.0 110.2,839.0 110.2,837.8 110.3,836.8 110.3,835.9 110.3,835.7 110.4,834.3 110.4,833.4 110.4,832.8 110.5,832.6 110.5,831.4 110.5,830.8 110.6,829.4 110.6,829.0 110.6,828.0 110.7,827.1 110.7,826.7 110.7,825.7 110.8,824.7 110.8,824.6 110.8,823.4 110.9,822.3 110.9,821.4 110.9,822.8 110.9,823.5 111.0,823.8 111.0,825.0 111.0,826.1 111.0,826.7 111.1,827.3 111.1,828.4 111.1,829.3 111.1,830.1 111.1,830.5 111.2,831.9 111.2,832.8 111.2,833.5 111.2,834.4 111.2,834.8 111.3,836.1 111.3,836.3 111.3,837.1 111.3,838.3 111.4,839.4 111.4,839.4 111.4,840.4 111.4,841.0 111.4,842.2 111.5,842.8 111.5,843.6 111.5,845.0 111.5,845.6 111.5,846.8 111.6,847.1 111.6,848.2 111.6,848.4 111.6,850.0 111.7,850.2 111.7,851.3 111.7,852.1 111.8,851.7 111.8,850.5 111.9,850.1 111.9,848.9 112.0,847.7 112.0,847.5 112.1,846.1 112.2,846.0 112.2,844.7 112.3,843.6 112.3,843.5 112.4,842.1 112.5,841.3 112.5,840.5 112.6,839.9 112.6,838.5 112.7,838.0 112.8,837.0 112.8,836.8 112.9,835.2 112.9,835.0 113.0,833.8 113.0,833.2 113.1,832.5 113.2,831.8 113.3,830.4 113.4,829.7 113.5,828.8 113.6,828.7 113.7,827.2 113.8,826.3 113.9,825.9 114.0,825.1 114.1,824.5 114.2,823.0 114.3,822.3 114.4,821.4 114.5,821.0 114.6,820.0 114.7,819.2 114.8,818.8 114.9,817.8 115.0,817.1 115.1,816.4 115.2,815.0 115.3,814.7 115.4,813.4 115.5,812.3 116.0,812.3 116.5,810.7 116.9,809.9 117.4,809.3 117.9,808.5 118.1,809.9 118.3,810.6 118.6,811.0 118.8,811.9 119.0,813.0 119.2,813.8 119.4,814.4 119.6,815.1 119.8,815.6 120.1,816.5 120.3,817.6 120.5,818.4 120.8,819.4 121.0,820.2 121.3,821.1 121.5,821.2 121.8,821.9 122.1,823.4 122.3,823.9 122.6,824.4 122.9,825.6 123.1,826.0 123.4,826.8 123.7,827.7 123.9,828.6 124.2,829.6 124.4,829.8 124.7,831.2 125.0,831.9 125.2,832.6 125.5,833.6 125.7,834.5 126.0,834.6 126.2,835.8 126.4,836.8 126.7,837.6 126.9,838.4 127.2,838.8 127.4,840.3 127.7,840.9 127.9,841.3 128.2,842.2 128.4,843.5 128.6,843.6 128.8,844.6 129.0,845.8 129.2,846.6 129.4,846.8 129.6,848.0 129.8,848.4 129.9,849.5 130.1,850.4 130.3,850.6 130.5,851.5 130.7,852.2 130.9,853.1 131.1,853.6 131.3,854.5 131.5,855.5 131.7,856.3 132.0,856.8 132.3,858.0 132.6,859.1 132.8,859.5 133.1,860.0 133.4,861.1 133.7,861.6 134.0,862.1 134.3,863.2 134.6,863.5 134.9,864.8 135.1,865.1 135.4,866.1 135.7,867.4 136.0,867.9 136.4,868.7 136.7,869.3 137.1,870.1 137.5,870.9 137.9,871.9 138.2,871.9 138.6,873.2 139.0,873.5 139.4,874.2 139.7,875.5 140.1,876.0 140.5,877.0 140.9,877.7 141.2,878.2 141.6,878.6 142.2,879.1 142.8,880.1 143.4,880.9 144.0,881.1 144.6,881.5 145.1,882.0 145.7,882.7 146.3,883.8 146.9,883.8 147.5,884.6 148.1,885.2 148.7,886.2 149.4,887.0 150.1,886.6 150.8,887.2 151.5,888.5 152.2,889.0 152.9,888.8 153.6,889.5 154.3,890.2 154.7,890.7 155.2,891.5 155.6,892.2 156.1,892.7 156.5,893.1 157.0,893.8 157.4,894.6 157.9,895.2 158.3,896.3 158.8,897.1 159.2,897.3 159.7,898.5 160.1,899.1 160.6,899.4 161.0,900.2 161.5,900.6 161.9,901.9 162.4,902.3 162.8,902.5 163.4,903.2 164.0,904.2 164.6,904.5 165.1,905.4 165.7,905.6 166.3,906.7 166.9,907.3 167.5,907.2 168.1,908.2 168.6,908.5 169.2,909.5 169.8,910.2 170.5,910.7 171.1,910.7 171.8,911.0 172.5,912.0 173.1,912.5 173.8,912.6 174.5,913.1 175.1,914.0 175.8,914.0 176.4,915.0 177.1,915.2 177.8,915.7 178.4,916.3 179.1,916.9 179.8,917.6 180.4,917.5 181.1,918.6 181.8,918.6 182.4,919.1 183.1,919.9 183.7,920.4 184.4,920.8 185.0,921.6 185.7,921.4 186.3,922.0 187.0,922.7 187.6,922.9 188.3,923.2 188.9,923.8 189.6,924.7 190.2,925.2 190.9,925.6 191.5,926.4 192.1,926.8 192.7,927.0 193.3,927.6 193.9,928.6 194.4,928.6 195.0,929.6 195.6,929.8 196.2,930.3 196.8,931.3 197.4,931.6 198.0,932.9 198.7,933.3 199.4,933.4 200.1,933.7 200.8,934.1 201.5,935.0 202.2,935.5 202.9,935.8 203.6,936.6 204.3,936.9 205.0,937.6 205.8,937.4 206.5,937.7 207.3,938.3 208.0,938.7 208.8,938.8 209.5,939.6 210.3,939.5 211.0,939.9 211.8,940.4 212.5,940.9 213.3,941.3 214.0,941.3 214.8,941.7 215.5,942.5 216.3,942.8 217.1,942.5 217.9,942.1 218.7,942.4 219.5,942.6 220.3,942.2 221.1,942.0 221.9,942.9 222.7,942.8 223.5,942.2 224.3,942.5 225.2,942.6 226.0,942.3 226.8,942.1 227.6,942.8 228.4,942.8 229.2,942.5 230.0,942.2 230.8,942.5 231.6,942.2 232.4,943.0 233.2,942.2 234.1,942.4 235.0,942.8 235.9,942.2 236.8,942.1 237.6,942.1 238.5,942.1 239.4,942.5 240.3,942.7 241.1,941.9 241.9,941.7 242.8,942.1 243.6,941.6 244.4,941.3 245.2,941.0 246.0,940.9 246.8,941.4 247.7,940.4 248.5,940.4 249.3,940.6 250.1,940.6 251.0,940.8 251.8,940.6 252.7,941.2 253.5,941.1 254.4,941.2" fill="none" stroke="#1a6fa8" stroke-width="2.0" stroke-linejoin="round" />
<text x="134.0" y="838.0" font-size="13.2" text-anchor="start" fill="#1a6fa8" font-weight="normal" dominant-baseline="central" >Semaglutide (300 nM)</text>
<text x="161.5" y="889.5" font-size="12.8" text-anchor="start" fill="#9e9e9e" font-weight="normal" dominant-baseline="central" >Control</text>
<line x1="98.00" y1="878.00" x2="98.00" y2="917.00" stroke="#000" stroke-width="1.6" />
<path d="M92.8,914.7 L103,914.7 L98,926 Z" fill="#000"/>
<line x1="55.70" y1="889.50" x2="55.70" y2="937.60" stroke="#000" stroke-width="1.6" />
<line x1="67.60" y1="943.30" x2="99.00" y2="943.30" stroke="#000" stroke-width="1.6" />
<text x="68.2" y="956.0" font-size="13" text-anchor="start" fill="#000" font-weight="normal" dominant-baseline="central" >5 s</text>
<text transform="translate(48,912) rotate(-90)" font-size="13.4" text-anchor="middle" dominant-baseline="central">10 mN/mm<tspan font-size="9" dy="-5">2</tspan></text>
</g>
<g font-family="Liberation Sans">
<rect x="380.30" y="926.40" width="35.00" height="30.00" fill="#a3a3a3"/>
<rect x="433.50" y="870.15" width="35.00" height="86.25" fill="#0a6aa6"/>
<circle cx="397.8" cy="903.6" r="2.2" fill="#000"/>
<circle cx="397.8" cy="910.7" r="2.2" fill="#000"/>
<circle cx="389.7" cy="923.8" r="2.2" fill="#000"/>
<circle cx="407.0" cy="925.4" r="2.2" fill="#000"/>
<circle cx="397.8" cy="924.8" r="2.2" fill="#000"/>
<circle cx="397.8" cy="933.6" r="2.2" fill="#000"/>
<circle cx="397.8" cy="944.3" r="2.2" fill="#000"/>
<circle cx="397.8" cy="950.8" r="2.2" fill="#000"/>
<circle cx="451.0" cy="816.8" r="2.2" fill="#000"/>
<circle cx="451.0" cy="847.7" r="2.2" fill="#000"/>
<circle cx="451.0" cy="853.2" r="2.2" fill="#000"/>
<circle cx="451.0" cy="861.9" r="2.2" fill="#000"/>
<circle cx="451.0" cy="868.0" r="2.2" fill="#000"/>
<circle cx="451.0" cy="878.2" r="2.2" fill="#000"/>
<circle cx="451.0" cy="905.0" r="2.2" fill="#000"/>
<circle cx="451.0" cy="925.0" r="2.2" fill="#000"/>
<line x1="397.80" y1="921.00" x2="397.80" y2="932.60" stroke="#000" stroke-width="1.5" />
<line x1="387.60" y1="921.00" x2="408.00" y2="921.00" stroke="#000" stroke-width="1.5" />
<line x1="387.60" y1="932.60" x2="408.00" y2="932.60" stroke="#000" stroke-width="1.5" />
<line x1="451.00" y1="857.60" x2="451.00" y2="881.40" stroke="#000" stroke-width="1.5" />
<line x1="440.80" y1="857.60" x2="461.20" y2="857.60" stroke="#000" stroke-width="1.5" />
<line x1="440.80" y1="881.40" x2="461.20" y2="881.40" stroke="#000" stroke-width="1.5" />
<line x1="363.00" y1="806.40" x2="363.00" y2="957.40" stroke="#000" stroke-width="1.9" />
<line x1="355.40" y1="956.40" x2="485.80" y2="956.40" stroke="#000" stroke-width="1.9" />
<line x1="355.40" y1="956.40" x2="363.00" y2="956.40" stroke="#000" stroke-width="1.6" />
<text x="352.9" y="956.4" font-size="14.6" text-anchor="end" fill="#000" font-weight="normal" dominant-baseline="central" >0</text>
<line x1="355.40" y1="918.90" x2="363.00" y2="918.90" stroke="#000" stroke-width="1.6" />
<text x="352.9" y="918.9" font-size="14.6" text-anchor="end" fill="#000" font-weight="normal" dominant-baseline="central" >10</text>
<line x1="355.40" y1="881.40" x2="363.00" y2="881.40" stroke="#000" stroke-width="1.6" />
<text x="352.9" y="881.4" font-size="14.6" text-anchor="end" fill="#000" font-weight="normal" dominant-baseline="central" >20</text>
<line x1="355.40" y1="843.90" x2="363.00" y2="843.90" stroke="#000" stroke-width="1.6" />
<text x="352.9" y="843.9" font-size="14.6" text-anchor="end" fill="#000" font-weight="normal" dominant-baseline="central" >30</text>
<line x1="355.40" y1="806.40" x2="363.00" y2="806.40" stroke="#000" stroke-width="1.6" />
<text x="352.9" y="806.4" font-size="14.6" text-anchor="end" fill="#000" font-weight="normal" dominant-baseline="central" >40</text>
<line x1="397.80" y1="956.40" x2="397.80" y2="964.00" stroke="#000" stroke-width="1.6" />
<line x1="451.00" y1="956.40" x2="451.00" y2="964.00" stroke="#000" stroke-width="1.6" />
</g>
<g font-family="Liberation Sans">
<path d="M397.8,896.0 V798.3 H451.0 V808.0" fill="none" stroke="#000" stroke-width="1.6"/>
<text x="424.0" y="786.8" font-size="14" text-anchor="middle" fill="#000" font-weight="normal" dominant-baseline="central" >&lt;0.001</text>
<text transform="translate(325.4,879) rotate(-90)" font-size="14.1" text-anchor="middle" dominant-baseline="central">RCC Developed Tension (mN/mm<tspan font-size="9" dy="-5">2</tspan><tspan dy="5">)</tspan></text>
<text transform="translate(400.8,976.0) rotate(-45)" font-size="14.6" text-anchor="end" fill="#000">Control</text>
<text transform="translate(454.0,976.0) rotate(-45)" font-size="14.6" text-anchor="end" fill="#000">Semaglutide (300 nM)</text>
</g>
<g font-family="Liberation Sans">
<rect x="600.20" y="899.90" width="36.00" height="68.40" fill="#a0a0a0"/>
<rect x="654.70" y="915.45" width="36.00" height="52.85" fill="#00bfbf"/>
<rect x="709.10" y="933.45" width="36.00" height="34.85" fill="#0a6aa6"/>
<rect x="763.90" y="943.24" width="36.00" height="25.06" fill="#fdc300"/>
<circle cx="618.2" cy="851.7" r="2.3" fill="#000"/>
<circle cx="613.9" cy="879.5" r="2.3" fill="#000"/>
<circle cx="622.6" cy="881.5" r="2.3" fill="#000"/>
<circle cx="613.9" cy="917.2" r="2.3" fill="#000"/>
<circle cx="622.6" cy="919.1" r="2.3" fill="#000"/>
<circle cx="618.2" cy="950.9" r="2.3" fill="#000"/>
<circle cx="672.8" cy="877.5" r="2.3" fill="#000"/>
<circle cx="672.8" cy="899.3" r="2.3" fill="#000"/>
<circle cx="668.4" cy="908.2" r="2.3" fill="#000"/>
<circle cx="677.1" cy="906.9" r="2.3" fill="#000"/>
<circle cx="672.8" cy="938.6" r="2.3" fill="#000"/>
<circle cx="672.8" cy="961.2" r="2.3" fill="#000"/>
<circle cx="727.1" cy="899.6" r="2.3" fill="#000"/>
<circle cx="727.1" cy="907.6" r="2.3" fill="#000"/>
<circle cx="727.3" cy="949.3" r="2.3" fill="#000"/>
<circle cx="722.8" cy="955.8" r="2.3" fill="#000"/>
<circle cx="731.6" cy="955.8" r="2.3" fill="#000"/>
<circle cx="781.8" cy="903.3" r="2.3" fill="#000"/>
<circle cx="781.8" cy="926.5" r="2.3" fill="#000"/>
<circle cx="781.8" cy="939.0" r="2.3" fill="#000"/>
<circle cx="781.8" cy="959.8" r="2.3" fill="#000"/>
<circle cx="777.5" cy="966.7" r="2.3" fill="#000"/>
<circle cx="786.2" cy="965.7" r="2.3" fill="#000"/>
<line x1="618.20" y1="885.50" x2="618.20" y2="914.50" stroke="#000" stroke-width="1.5" />
<line x1="608.90" y1="885.50" x2="627.50" y2="885.50" stroke="#000" stroke-width="1.5" />
<line x1="608.90" y1="914.50" x2="627.50" y2="914.50" stroke="#000" stroke-width="1.5" />
<line x1="672.70" y1="902.50" x2="672.70" y2="926.90" stroke="#000" stroke-width="1.5" />
<line x1="663.40" y1="902.50" x2="682.00" y2="902.50" stroke="#000" stroke-width="1.5" />
<line x1="663.40" y1="926.90" x2="682.00" y2="926.90" stroke="#000" stroke-width="1.5" />
<line x1="727.10" y1="921.00" x2="727.10" y2="945.50" stroke="#000" stroke-width="1.5" />
<line x1="717.80" y1="921.00" x2="736.40" y2="921.00" stroke="#000" stroke-width="1.5" />
<line x1="717.80" y1="945.50" x2="736.40" y2="945.50" stroke="#000" stroke-width="1.5" />
<line x1="781.90" y1="932.80" x2="781.90" y2="953.60" stroke="#000" stroke-width="1.5" />
<line x1="772.60" y1="932.80" x2="791.20" y2="932.80" stroke="#000" stroke-width="1.5" />
<line x1="772.60" y1="953.60" x2="791.20" y2="953.60" stroke="#000" stroke-width="1.5" />
<line x1="582.00" y1="824.30" x2="582.00" y2="969.30" stroke="#000" stroke-width="1.9" />
<line x1="575.00" y1="968.30" x2="818.70" y2="968.30" stroke="#000" stroke-width="1.9" />
<line x1="575.00" y1="968.30" x2="582.00" y2="968.30" stroke="#000" stroke-width="1.6" />
<text x="572.5" y="968.3" font-size="14" text-anchor="end" fill="#000" font-weight="normal" dominant-baseline="central" >0.0</text>
<line x1="575.00" y1="939.50" x2="582.00" y2="939.50" stroke="#000" stroke-width="1.6" />
<text x="572.5" y="939.5" font-size="14" text-anchor="end" fill="#000" font-weight="normal" dominant-baseline="central" >0.2</text>
<line x1="575.00" y1="910.70" x2="582.00" y2="910.70" stroke="#000" stroke-width="1.6" />
<text x="572.5" y="910.7" font-size="14" text-anchor="end" fill="#000" font-weight="normal" dominant-baseline="central" >0.4</text>
<line x1="575.00" y1="881.90" x2="582.00" y2="881.90" stroke="#000" stroke-width="1.6" />
<text x="572.5" y="881.9" font-size="14" text-anchor="end" fill="#000" font-weight="normal" dominant-baseline="central" >0.6</text>
<line x1="575.00" y1="853.10" x2="582.00" y2="853.10" stroke="#000" stroke-width="1.6" />
<text x="572.5" y="853.1" font-size="14" text-anchor="end" fill="#000" font-weight="normal" dominant-baseline="central" >0.8</text>
<line x1="575.00" y1="824.30" x2="582.00" y2="824.30" stroke="#000" stroke-width="1.6" />
<text x="572.5" y="824.3" font-size="14" text-anchor="end" fill="#000" font-weight="normal" dominant-baseline="central" >1.0</text>
<line x1="618.20" y1="968.30" x2="618.20" y2="975.30" stroke="#000" stroke-width="1.6" />
<line x1="672.70" y1="968.30" x2="672.70" y2="975.30" stroke="#000" stroke-width="1.6" />
<line x1="727.10" y1="968.30" x2="727.10" y2="975.30" stroke="#000" stroke-width="1.6" />
<line x1="781.90" y1="968.30" x2="781.90" y2="975.30" stroke="#000" stroke-width="1.6" />
</g>
<g font-family="Liberation Sans">
<path d="M618.2,793.6 V768.2 H782.0 V895.7" fill="none" stroke="#000" stroke-width="1.4"/>
<path d="M618.2,826.7 V801.3 H727.4 V826.7" fill="none" stroke="#000" stroke-width="1.4"/>
<path d="M618.2,844.3 V835.1 H670.0 V869.7" fill="none" stroke="#000" stroke-width="1.4"/>
<path d="M675.6,869.7 V835.1 H727.2 V892.2" fill="none" stroke="#000" stroke-width="1.4"/>
<text x="700.0" y="756.2" font-size="13.5" text-anchor="middle" fill="#000" font-weight="normal" dominant-baseline="central" >0.006</text>
<text x="672.5" y="789.3" font-size="13.5" text-anchor="middle" fill="#000" font-weight="normal" dominant-baseline="central" >0.047</text>
<text x="643.8" y="823.2" font-size="13.5" text-anchor="middle" fill="#000" font-weight="normal" dominant-baseline="central" >0.312</text>
<text x="701.3" y="823.2" font-size="13.5" text-anchor="middle" fill="#000" font-weight="normal" dominant-baseline="central" >0.312</text>
<text transform="translate(541.6,895.0) rotate(-90)" font-size="14" text-anchor="middle" dominant-baseline="central" fill="#000">PLN/SERCA2a</text>
<text transform="translate(621.2,988.0) rotate(-45)" font-size="13.7" text-anchor="end" fill="#000">Control</text>
<text transform="translate(675.7,988.0) rotate(-45)" font-size="13.7" text-anchor="end" fill="#000">100 nM Semaglutide</text>
<text transform="translate(730.1,988.0) rotate(-45)" font-size="13.7" text-anchor="end" fill="#000">300 nM Semaglutide</text>
<text transform="translate(784.9,988.0) rotate(-45)" font-size="13.7" text-anchor="end" fill="#000">ISO</text>
</g>
<line x1="875" y1="919.7" x2="1125.5" y2="919.7" stroke="#333" stroke-width="1.2" stroke-dasharray="1.6,1.6"/>
<g font-family="Liberation Sans">
<rect x="899.65" y="918.53" width="49.50" height="39.27" fill="#0a6aa6"/>
<rect x="975.65" y="896.20" width="49.50" height="61.60" fill="#fdc300"/>
<rect x="1051.15" y="915.83" width="49.50" height="41.97" fill="#f28c1e"/>
<circle cx="924.4" cy="911.8" r="2.2" fill="#000"/>
<circle cx="915.3" cy="921.8" r="2.2" fill="#000"/>
<circle cx="924.4" cy="920.6" r="2.2" fill="#000"/>
<circle cx="933.9" cy="923.9" r="2.2" fill="#000"/>
<circle cx="928.7" cy="930.4" r="2.2" fill="#000"/>
<circle cx="919.8" cy="933.5" r="2.2" fill="#000"/>
<circle cx="924.0" cy="884.0" r="2.2" fill="#000"/>
<circle cx="1000.0" cy="835.0" r="2.2" fill="#000"/>
<circle cx="1004.9" cy="896.0" r="2.2" fill="#000"/>
<circle cx="995.8" cy="899.8" r="2.2" fill="#000"/>
<circle cx="995.8" cy="925.7" r="2.2" fill="#000"/>
<circle cx="1004.9" cy="923.0" r="2.2" fill="#000"/>
<circle cx="1076.3" cy="851.0" r="2.2" fill="#000"/>
<circle cx="1071.4" cy="927.0" r="2.2" fill="#000"/>
<circle cx="1080.8" cy="924.7" r="2.2" fill="#000"/>
<circle cx="1080.8" cy="930.7" r="2.2" fill="#000"/>
<circle cx="1076.0" cy="945.0" r="2.2" fill="#000"/>
<line x1="924.40" y1="911.80" x2="924.40" y2="924.40" stroke="#000" stroke-width="1.5" />
<line x1="911.50" y1="911.80" x2="937.30" y2="911.80" stroke="#000" stroke-width="1.5" />
<line x1="911.50" y1="924.40" x2="937.30" y2="924.40" stroke="#000" stroke-width="1.5" />
<line x1="1000.40" y1="879.70" x2="1000.40" y2="912.30" stroke="#000" stroke-width="1.5" />
<line x1="987.50" y1="879.70" x2="1013.30" y2="879.70" stroke="#000" stroke-width="1.5" />
<line x1="987.50" y1="912.30" x2="1013.30" y2="912.30" stroke="#000" stroke-width="1.5" />
<line x1="1075.90" y1="899.00" x2="1075.90" y2="932.10" stroke="#000" stroke-width="1.5" />
<line x1="1063.00" y1="899.00" x2="1088.80" y2="899.00" stroke="#000" stroke-width="1.5" />
<line x1="1063.00" y1="932.10" x2="1088.80" y2="932.10" stroke="#000" stroke-width="1.5" />
<line x1="874.80" y1="804.10" x2="874.80" y2="958.80" stroke="#000" stroke-width="1.9" />
<line x1="867.20" y1="957.80" x2="1126.50" y2="957.80" stroke="#000" stroke-width="1.9" />
<line x1="867.20" y1="957.80" x2="874.80" y2="957.80" stroke="#000" stroke-width="1.6" />
<text x="864.7" y="957.8" font-size="14.5" text-anchor="end" fill="#000" font-weight="normal" dominant-baseline="central" >0</text>
<line x1="867.20" y1="919.30" x2="874.80" y2="919.30" stroke="#000" stroke-width="1.6" />
<text x="864.7" y="919.3" font-size="14.5" text-anchor="end" fill="#000" font-weight="normal" dominant-baseline="central" >1</text>
<line x1="867.20" y1="880.80" x2="874.80" y2="880.80" stroke="#000" stroke-width="1.6" />
<text x="864.7" y="880.8" font-size="14.5" text-anchor="end" fill="#000" font-weight="normal" dominant-baseline="central" >2</text>
<line x1="867.20" y1="842.30" x2="874.80" y2="842.30" stroke="#000" stroke-width="1.6" />
<text x="864.7" y="842.3" font-size="14.5" text-anchor="end" fill="#000" font-weight="normal" dominant-baseline="central" >3</text>
<line x1="867.20" y1="803.80" x2="874.80" y2="803.80" stroke="#000" stroke-width="1.6" />
<text x="864.7" y="803.8" font-size="14.5" text-anchor="end" fill="#000" font-weight="normal" dominant-baseline="central" >4</text>
<line x1="924.40" y1="957.80" x2="924.40" y2="965.40" stroke="#000" stroke-width="1.6" />
<line x1="1000.40" y1="957.80" x2="1000.40" y2="965.40" stroke="#000" stroke-width="1.6" />
<line x1="1075.90" y1="957.80" x2="1075.90" y2="965.40" stroke="#000" stroke-width="1.6" />
</g>
<g font-family="Liberation Sans">
<path d="M924.4,875.8 V816.8 H997.4 V826.0" fill="none" stroke="#000" stroke-width="1.6"/>
<path d="M1003.0,826.0 V816.8 H1076.3 V842.2" fill="none" stroke="#000" stroke-width="1.6"/>
<text x="960.6" y="804.0" font-size="14" text-anchor="middle" fill="#000" font-weight="normal" dominant-baseline="central" >0.045</text>
<text x="1039.8" y="804.0" font-size="14" text-anchor="middle" fill="#000" font-weight="normal" dominant-baseline="central" >0.045</text>
<text transform="translate(843.2,880.0) rotate(-90)" font-size="14.3" text-anchor="middle" dominant-baseline="central" fill="#000">pT287 CaMKII/CaMKII</text>
<text transform="translate(925.1,975.0) rotate(-45)" font-size="14.7" text-anchor="end" fill="#000">300 nM</text>
<text transform="translate(934.6,987.0) rotate(-45)" font-size="14.7" text-anchor="end" fill="#000">Semaglutide</text>
<text transform="translate(1003.6,974.0) rotate(-45)" font-size="14.7" text-anchor="end" fill="#000">ISO</text>
<text transform="translate(1072.7,974.0) rotate(-45)" font-size="14.7" text-anchor="end" fill="#000">ISO +</text>
<text transform="translate(1084.9,986.0) rotate(-45)" font-size="14.7" text-anchor="end" fill="#000">300 nM Semaglutide</text>
</g>
<g font-family="Liberation Sans">
<line x1="1199.40" y1="788.30" x2="1199.40" y2="962.80" stroke="#000" stroke-width="1.8" />
<line x1="1192.00" y1="962.00" x2="1441.20" y2="962.00" stroke="#000" stroke-width="1.8" />
<line x1="1192.00" y1="962.00" x2="1199.40" y2="962.00" stroke="#000" stroke-width="1.6" />
<text x="1189.4" y="962.0" font-size="16" text-anchor="end" fill="#000" font-weight="normal" dominant-baseline="central" >0</text>
<line x1="1192.00" y1="875.15" x2="1199.40" y2="875.15" stroke="#000" stroke-width="1.6" />
<text x="1189.4" y="875.1" font-size="16" text-anchor="end" fill="#000" font-weight="normal" dominant-baseline="central" >5</text>
<line x1="1192.00" y1="788.30" x2="1199.40" y2="788.30" stroke="#000" stroke-width="1.6" />
<text x="1189.4" y="788.3" font-size="16" text-anchor="end" fill="#000" font-weight="normal" dominant-baseline="central" >10</text>
<line x1="1199.40" y1="962.00" x2="1199.40" y2="969.00" stroke="#000" stroke-width="1.6" />
<text x="1199.4" y="983.5" font-size="16" text-anchor="middle" fill="#000" font-weight="normal" dominant-baseline="central" >0</text>
<line x1="1247.77" y1="962.00" x2="1247.77" y2="969.00" stroke="#000" stroke-width="1.6" />
<text x="1247.8" y="983.5" font-size="16" text-anchor="middle" fill="#000" font-weight="normal" dominant-baseline="central" >1000</text>
<line x1="1296.14" y1="962.00" x2="1296.14" y2="969.00" stroke="#000" stroke-width="1.6" />
<text x="1296.1" y="983.5" font-size="16" text-anchor="middle" fill="#000" font-weight="normal" dominant-baseline="central" >2000</text>
<line x1="1344.51" y1="962.00" x2="1344.51" y2="969.00" stroke="#000" stroke-width="1.6" />
<text x="1344.5" y="983.5" font-size="16" text-anchor="middle" fill="#000" font-weight="normal" dominant-baseline="central" >3000</text>
<line x1="1392.88" y1="962.00" x2="1392.88" y2="969.00" stroke="#000" stroke-width="1.6" />
<text x="1392.9" y="983.5" font-size="16" text-anchor="middle" fill="#000" font-weight="normal" dominant-baseline="central" >4000</text>
<line x1="1441.25" y1="962.00" x2="1441.25" y2="969.00" stroke="#000" stroke-width="1.6" />
<text x="1441.2" y="983.5" font-size="16" text-anchor="middle" fill="#000" font-weight="normal" dominant-baseline="central" >5000</text>
<text x="1319.0" y="1006.7" font-size="16.1" text-anchor="middle" fill="#000" font-weight="normal" dominant-baseline="central" >NT-proBNP</text>
<text x="1320.2" y="778.7" font-size="16.3" text-anchor="middle" fill="#1a6fa8" font-weight="normal" dominant-baseline="central" >Semaglutide 300 nM</text>
<text transform="translate(1136.0,877.0) rotate(-90)" font-size="16.2" text-anchor="middle" dominant-baseline="central" fill="#000">Developed Tension</text>
<text transform="translate(1155.5,873.0) rotate(-90)" font-size="16.4" text-anchor="middle" dominant-baseline="central" fill="#000">Normalized to Control</text>
<polyline points="1217.8,880.3 1219.8,880.2 1221.8,880.0 1223.8,879.8 1225.8,879.6 1227.8,879.4 1229.8,879.2 1231.8,879.0 1233.8,878.8 1235.8,878.6 1237.8,878.4 1239.8,878.1 1241.8,877.9 1243.8,877.6 1245.8,877.4 1247.8,877.1 1249.8,876.8 1251.8,876.5 1253.8,876.2 1255.8,875.8 1257.8,875.5 1259.8,875.2 1261.8,874.8 1263.8,874.4 1265.8,874.0 1267.8,873.6 1269.8,873.1 1271.8,872.7 1273.8,872.2 1275.8,871.7 1277.8,871.2 1279.8,870.6 1281.8,870.1 1283.8,869.5 1285.8,868.9 1287.8,868.2 1289.8,867.5 1291.8,866.8 1293.8,866.1 1295.8,865.3 1297.8,864.6 1299.8,863.7 1301.8,862.9 1303.8,862.0 1305.8,861.1 1307.8,860.2 1309.8,859.2 1311.8,858.2 1313.8,857.2 1315.8,856.2 1317.8,855.1 1319.8,854.0 1321.8,852.9 1323.8,851.8 1325.8,850.6 1327.8,849.4 1329.8,848.2 1331.8,847.0 1333.8,845.8 1335.8,844.5 1337.8,843.2 1339.8,841.9 1341.8,840.6 1343.8,839.3 1345.8,838.0 1347.8,836.6 1349.8,835.2 1351.8,833.9 1353.8,832.5 1355.8,831.1 1357.8,829.7 1359.8,828.3 1361.8,826.8 1363.8,825.4 1365.8,824.0 1367.8,822.5 1369.8,821.0 1371.8,819.6 1373.8,818.1 1375.8,816.6 1377.8,815.1 1379.8,813.7 1381.8,812.2 1383.8,810.7 1385.8,809.2 1387.8,807.7 1389.8,806.1 1391.8,804.6 1393.8,803.1 1395.8,801.6 1397.8,800.0 1399.8,798.5 1401.8,797.0 1403.8,795.4 1405.8,793.9 1407.8,792.4 1409.8,790.8 1411.8,789.3" fill="none" stroke="#444" stroke-width="1.0" stroke-linejoin="round" stroke-dasharray="2.5,1.8"/>
<polyline points="1217.8,959.5 1219.8,958.0 1221.8,956.5 1223.8,955.0 1225.8,953.5 1227.8,952.0 1229.8,950.6 1231.8,949.1 1233.8,947.7 1235.8,946.2 1237.8,944.8 1239.8,943.4 1241.8,941.9 1243.8,940.5 1245.8,939.1 1247.8,937.7 1249.8,936.4 1251.8,935.0 1253.8,933.6 1255.8,932.3 1257.8,931.0 1259.8,929.7 1261.8,928.4 1263.8,927.1 1265.8,925.8 1267.8,924.6 1269.8,923.3 1271.8,922.1 1273.8,920.9 1275.8,919.8 1277.8,918.6 1279.8,917.5 1281.8,916.4 1283.8,915.3 1285.8,914.3 1287.8,913.3 1289.8,912.3 1291.8,911.3 1293.8,910.4 1295.8,909.5 1297.8,908.6 1299.8,907.7 1301.8,906.9 1303.8,906.1 1305.8,905.4 1307.8,904.6 1309.8,903.9 1311.8,903.2 1313.8,902.6 1315.8,902.0 1317.8,901.4 1319.8,900.8 1321.8,900.2 1323.8,899.7 1325.8,899.2 1327.8,898.7 1329.8,898.3 1331.8,897.8 1333.8,897.4 1335.8,897.0 1337.8,896.6 1339.8,896.2 1341.8,895.9 1343.8,895.5 1345.8,895.2 1347.8,894.9 1349.8,894.6 1351.8,894.3 1353.8,894.0 1355.8,893.8 1357.8,893.5 1359.8,893.3 1361.8,893.0 1363.8,892.8 1365.8,892.6 1367.8,892.3 1369.8,892.1 1371.8,891.9 1373.8,891.7 1375.8,891.6 1377.8,891.4 1379.8,891.2 1381.8,891.0 1383.8,890.9 1385.8,890.7 1387.8,890.5 1389.8,890.4 1391.8,890.2 1393.8,890.1 1395.8,889.9 1397.8,889.8 1399.8,889.7 1401.8,889.5 1403.8,889.4 1405.8,889.3 1407.8,889.2 1409.8,889.1 1411.8,888.9 1413.8,888.8 1415.8,888.7 1417.8,888.6 1419.8,888.5 1421.8,888.4 1423.8,888.3 1425.8,888.2 1427.8,888.1 1429.8,888.0 1431.8,887.9" fill="none" stroke="#444" stroke-width="1.0" stroke-linejoin="round" stroke-dasharray="2.5,1.8"/>
<line x1="1217.80" y1="919.90" x2="1432.20" y2="830.60" stroke="#000" stroke-width="1.8" />
<circle cx="1217.8" cy="919.3" r="3.6" fill="#0f6aa5"/>
<circle cx="1224.0" cy="869.4" r="3.6" fill="#0f6aa5"/>
<circle cx="1237.0" cy="870.4" r="3.6" fill="#0f6aa5"/>
<circle cx="1223.3" cy="947.4" r="3.6" fill="#0f6aa5"/>
<circle cx="1273.8" cy="930.2" r="3.6" fill="#0f6aa5"/>
<circle cx="1294.3" cy="905.1" r="3.6" fill="#0f6aa5"/>
<circle cx="1310.0" cy="878.4" r="3.6" fill="#0f6aa5"/>
<circle cx="1310.0" cy="901.6" r="3.6" fill="#0f6aa5"/>
<circle cx="1330.6" cy="937.9" r="3.6" fill="#0f6aa5"/>
<circle cx="1357.6" cy="856.0" r="3.6" fill="#0f6aa5"/>
<circle cx="1360.6" cy="804.6" r="3.6" fill="#0f6aa5"/>
<circle cx="1432.2" cy="820.2" r="3.6" fill="#0f6aa5"/>
<text x="1421.3" y="851" font-size="16" dominant-baseline="central">r<tspan font-size="11.5" dy="-5.5">2</tspan><tspan dy="5.5"> = 0.371</tspan></text>
<text x="1422.6" y="876.2" font-size="16" text-anchor="start" fill="#000" font-weight="normal" dominant-baseline="central" >p = 0.036</text>
</g>
</svg></body></html>
